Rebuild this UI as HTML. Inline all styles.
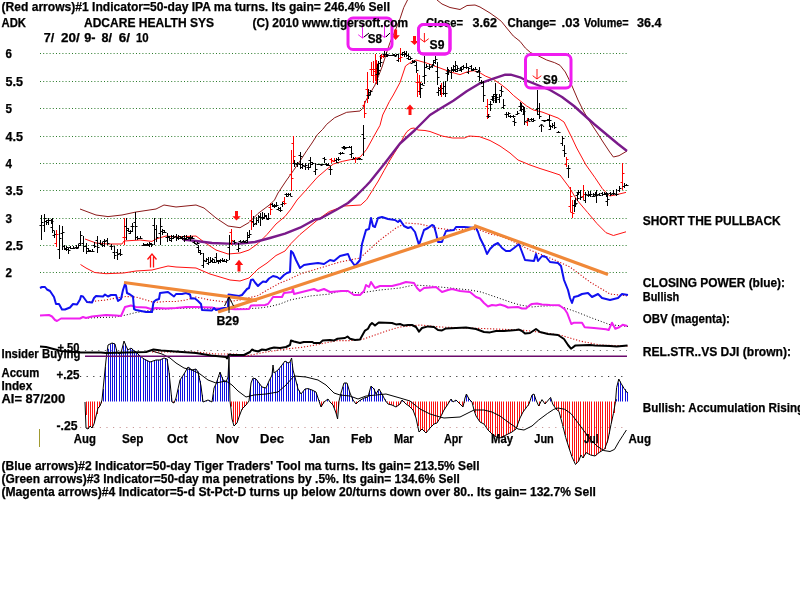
<!DOCTYPE html>
<html><head><meta charset="utf-8"><style>
html,body{margin:0;padding:0;background:#fff;width:800px;height:600px;overflow:hidden}
svg{display:block}
text{font-family:"Liberation Sans",Arial,sans-serif;stroke:#000;stroke-width:0.25px;paint-order:stroke}
</style></head><body>
<svg width="800" height="600" viewBox="0 0 800 600">
<line x1="40" y1="53.5" x2="627" y2="53.5" stroke="#2a7a2a" stroke-width="1" stroke-dasharray="1 2.2"/>
<line x1="40" y1="81.5" x2="627" y2="81.5" stroke="#2a7a2a" stroke-width="1" stroke-dasharray="1 2.2"/>
<line x1="40" y1="108.5" x2="627" y2="108.5" stroke="#2a7a2a" stroke-width="1" stroke-dasharray="1 2.2"/>
<line x1="40" y1="136.5" x2="627" y2="136.5" stroke="#2a7a2a" stroke-width="1" stroke-dasharray="1 2.2"/>
<line x1="40" y1="163.5" x2="627" y2="163.5" stroke="#2a7a2a" stroke-width="1" stroke-dasharray="1 2.2"/>
<line x1="40" y1="190.5" x2="627" y2="190.5" stroke="#2a7a2a" stroke-width="1" stroke-dasharray="1 2.2"/>
<line x1="40" y1="218.5" x2="627" y2="218.5" stroke="#2a7a2a" stroke-width="1" stroke-dasharray="1 2.2"/>
<line x1="40" y1="245.5" x2="627" y2="245.5" stroke="#2a7a2a" stroke-width="1" stroke-dasharray="1 2.2"/>
<line x1="40" y1="272.5" x2="627" y2="272.5" stroke="#2a7a2a" stroke-width="1" stroke-dasharray="1 2.2"/>
<line x1="85" y1="350.5" x2="627" y2="350.5" stroke="#666" stroke-width="1" stroke-dasharray="1.2 5.4"/>
<line x1="80" y1="376.5" x2="627" y2="376.5" stroke="#333" stroke-width="1" stroke-dasharray="1.2 5.4"/>
<line x1="80" y1="427.5" x2="627" y2="427.5" stroke="#c99" stroke-width="1" stroke-dasharray="1.2 5.4"/>
<line x1="86.5" y1="401.5" x2="86.5" y2="415" stroke="#ff1010" stroke-width="1" />
<line x1="88.5" y1="401.5" x2="88.5" y2="428.85" stroke="#ff1010" stroke-width="1" />
<line x1="90.5" y1="401.5" x2="90.5" y2="426.15" stroke="#ff1010" stroke-width="1" />
<line x1="92.5" y1="401.5" x2="92.5" y2="427.8" stroke="#ff1010" stroke-width="1" />
<line x1="94.5" y1="401.5" x2="94.5" y2="422.8" stroke="#ff1010" stroke-width="1" />
<line x1="97.5" y1="401.5" x2="97.5" y2="414" stroke="#ff1010" stroke-width="1" />
<line x1="99.5" y1="401.5" x2="99.5" y2="407.3" stroke="#ff1010" stroke-width="1" />
<line x1="101.5" y1="401.5" x2="101.5" y2="403.3" stroke="#ff1010" stroke-width="1" />
<line x1="103.5" y1="401.5" x2="103.5" y2="389" stroke="#1010e0" stroke-width="1" />
<line x1="105.5" y1="401.5" x2="105.5" y2="367" stroke="#1010e0" stroke-width="1" />
<line x1="108.5" y1="401.5" x2="108.5" y2="348.75" stroke="#1010e0" stroke-width="1" />
<line x1="110.5" y1="401.5" x2="110.5" y2="344.15" stroke="#1010e0" stroke-width="1" />
<line x1="112.5" y1="401.5" x2="112.5" y2="343.05" stroke="#1010e0" stroke-width="1" />
<line x1="114.5" y1="401.5" x2="114.5" y2="343.7" stroke="#1010e0" stroke-width="1" />
<line x1="116.5" y1="401.5" x2="116.5" y2="349.2" stroke="#1010e0" stroke-width="1" />
<line x1="119.5" y1="401.5" x2="119.5" y2="353.5" stroke="#1010e0" stroke-width="1" />
<line x1="121.5" y1="401.5" x2="121.5" y2="353.15" stroke="#1010e0" stroke-width="1" />
<line x1="123.5" y1="401.5" x2="123.5" y2="345.4" stroke="#1010e0" stroke-width="1" />
<line x1="125.5" y1="401.5" x2="125.5" y2="343.75" stroke="#1010e0" stroke-width="1" />
<line x1="127.5" y1="401.5" x2="127.5" y2="348.6" stroke="#1010e0" stroke-width="1" />
<line x1="130.5" y1="401.5" x2="130.5" y2="349" stroke="#1010e0" stroke-width="1" />
<line x1="132.5" y1="401.5" x2="132.5" y2="348.7" stroke="#1010e0" stroke-width="1" />
<line x1="134.5" y1="401.5" x2="134.5" y2="350.6" stroke="#1010e0" stroke-width="1" />
<line x1="136.5" y1="401.5" x2="136.5" y2="352.1" stroke="#1010e0" stroke-width="1" />
<line x1="138.5" y1="401.5" x2="138.5" y2="354.3" stroke="#1010e0" stroke-width="1" />
<line x1="140.5" y1="401.5" x2="140.5" y2="356.375" stroke="#1010e0" stroke-width="1" />
<line x1="143.5" y1="401.5" x2="143.5" y2="358.025" stroke="#1010e0" stroke-width="1" />
<line x1="145.5" y1="401.5" x2="145.5" y2="359.45" stroke="#1010e0" stroke-width="1" />
<line x1="147.5" y1="401.5" x2="147.5" y2="360.55" stroke="#1010e0" stroke-width="1" />
<line x1="149.5" y1="401.5" x2="149.5" y2="361.65" stroke="#1010e0" stroke-width="1" />
<line x1="151.5" y1="401.5" x2="151.5" y2="361.5" stroke="#1010e0" stroke-width="1" />
<line x1="154.5" y1="401.5" x2="154.5" y2="360.767" stroke="#1010e0" stroke-width="1" />
<line x1="156.5" y1="401.5" x2="156.5" y2="360.033" stroke="#1010e0" stroke-width="1" />
<line x1="158.5" y1="401.5" x2="158.5" y2="360" stroke="#1010e0" stroke-width="1" />
<line x1="160.5" y1="401.5" x2="160.5" y2="359.85" stroke="#1010e0" stroke-width="1" />
<line x1="162.5" y1="401.5" x2="162.5" y2="358.75" stroke="#1010e0" stroke-width="1" />
<line x1="165.5" y1="401.5" x2="165.5" y2="358.233" stroke="#1010e0" stroke-width="1" />
<line x1="167.5" y1="401.5" x2="167.5" y2="358.967" stroke="#1010e0" stroke-width="1" />
<line x1="169.5" y1="401.5" x2="169.5" y2="373" stroke="#1010e0" stroke-width="1" />
<line x1="171.5" y1="401.5" x2="171.5" y2="395" stroke="#1010e0" stroke-width="1" />
<line x1="173.5" y1="401.5" x2="173.5" y2="402.75" stroke="#ff1010" stroke-width="1" />
<line x1="176.5" y1="401.5" x2="176.5" y2="398.75" stroke="#1010e0" stroke-width="1" />
<line x1="178.5" y1="401.5" x2="178.5" y2="389.45" stroke="#1010e0" stroke-width="1" />
<line x1="180.5" y1="401.5" x2="180.5" y2="379.85" stroke="#1010e0" stroke-width="1" />
<line x1="182.5" y1="401.5" x2="182.5" y2="376.55" stroke="#1010e0" stroke-width="1" />
<line x1="184.5" y1="401.5" x2="184.5" y2="373.125" stroke="#1010e0" stroke-width="1" />
<line x1="187.5" y1="401.5" x2="187.5" y2="369.275" stroke="#1010e0" stroke-width="1" />
<line x1="189.5" y1="401.5" x2="189.5" y2="367.675" stroke="#1010e0" stroke-width="1" />
<line x1="191.5" y1="401.5" x2="191.5" y2="369.325" stroke="#1010e0" stroke-width="1" />
<line x1="193.5" y1="401.5" x2="193.5" y2="369.675" stroke="#1010e0" stroke-width="1" />
<line x1="195.5" y1="401.5" x2="195.5" y2="369.125" stroke="#1010e0" stroke-width="1" />
<line x1="198.5" y1="401.5" x2="198.5" y2="371.55" stroke="#1010e0" stroke-width="1" />
<line x1="200.5" y1="401.5" x2="200.5" y2="380.867" stroke="#1010e0" stroke-width="1" />
<line x1="202.5" y1="401.5" x2="202.5" y2="394.8" stroke="#1010e0" stroke-width="1" />
<line x1="206.5" y1="401.5" x2="206.5" y2="400.6" stroke="#1010e0" stroke-width="1" />
<line x1="209.5" y1="401.5" x2="209.5" y2="400.35" stroke="#1010e0" stroke-width="1" />
<line x1="213.5" y1="401.5" x2="213.5" y2="394.3" stroke="#1010e0" stroke-width="1" />
<line x1="215.5" y1="401.5" x2="215.5" y2="385.4" stroke="#1010e0" stroke-width="1" />
<line x1="217.5" y1="401.5" x2="217.5" y2="379.5" stroke="#1010e0" stroke-width="1" />
<line x1="220.5" y1="401.5" x2="220.5" y2="372.9" stroke="#1010e0" stroke-width="1" />
<line x1="222.5" y1="401.5" x2="222.5" y2="377.067" stroke="#1010e0" stroke-width="1" />
<line x1="224.5" y1="401.5" x2="224.5" y2="380.733" stroke="#1010e0" stroke-width="1" />
<line x1="226.5" y1="401.5" x2="226.5" y2="381.25" stroke="#1010e0" stroke-width="1" />
<line x1="228.5" y1="401.5" x2="228.5" y2="367" stroke="#1010e0" stroke-width="1" />
<line x1="231.5" y1="401.5" x2="231.5" y2="406.6" stroke="#ff1010" stroke-width="1" />
<line x1="233.5" y1="401.5" x2="233.5" y2="422.15" stroke="#ff1010" stroke-width="1" />
<line x1="235.5" y1="401.5" x2="235.5" y2="424.9" stroke="#ff1010" stroke-width="1" />
<line x1="237.5" y1="401.5" x2="237.5" y2="422.1" stroke="#ff1010" stroke-width="1" />
<line x1="239.5" y1="401.5" x2="239.5" y2="415.667" stroke="#ff1010" stroke-width="1" />
<line x1="242.5" y1="401.5" x2="242.5" y2="409.8" stroke="#ff1010" stroke-width="1" />
<line x1="244.5" y1="401.5" x2="244.5" y2="407.1" stroke="#ff1010" stroke-width="1" />
<line x1="246.5" y1="401.5" x2="246.5" y2="404.867" stroke="#ff1010" stroke-width="1" />
<line x1="250.5" y1="401.5" x2="250.5" y2="387.5" stroke="#1010e0" stroke-width="1" />
<line x1="253.5" y1="401.5" x2="253.5" y2="378.75" stroke="#1010e0" stroke-width="1" />
<line x1="255.5" y1="401.5" x2="255.5" y2="378.633" stroke="#1010e0" stroke-width="1" />
<line x1="257.5" y1="401.5" x2="257.5" y2="380.467" stroke="#1010e0" stroke-width="1" />
<line x1="259.5" y1="401.5" x2="259.5" y2="383.4" stroke="#1010e0" stroke-width="1" />
<line x1="261.5" y1="401.5" x2="261.5" y2="386.333" stroke="#1010e0" stroke-width="1" />
<line x1="264.5" y1="401.5" x2="264.5" y2="387.425" stroke="#1010e0" stroke-width="1" />
<line x1="266.5" y1="401.5" x2="266.5" y2="387.975" stroke="#1010e0" stroke-width="1" />
<line x1="268.5" y1="401.5" x2="268.5" y2="383.1" stroke="#1010e0" stroke-width="1" />
<line x1="270.5" y1="401.5" x2="270.5" y2="378.4" stroke="#1010e0" stroke-width="1" />
<line x1="272.5" y1="401.5" x2="272.5" y2="370" stroke="#1010e0" stroke-width="1" />
<line x1="275.5" y1="401.5" x2="275.5" y2="372.475" stroke="#1010e0" stroke-width="1" />
<line x1="277.5" y1="401.5" x2="277.5" y2="370.825" stroke="#1010e0" stroke-width="1" />
<line x1="279.5" y1="401.5" x2="279.5" y2="368.625" stroke="#1010e0" stroke-width="1" />
<line x1="281.5" y1="401.5" x2="281.5" y2="365.875" stroke="#1010e0" stroke-width="1" />
<line x1="283.5" y1="401.5" x2="283.5" y2="363" stroke="#1010e0" stroke-width="1" />
<line x1="286.5" y1="401.5" x2="286.5" y2="361.467" stroke="#1010e0" stroke-width="1" />
<line x1="288.5" y1="401.5" x2="288.5" y2="362.933" stroke="#1010e0" stroke-width="1" />
<line x1="290.5" y1="401.5" x2="290.5" y2="361.75" stroke="#1010e0" stroke-width="1" />
<line x1="292.5" y1="401.5" x2="292.5" y2="364" stroke="#1010e0" stroke-width="1" />
<line x1="294.5" y1="401.5" x2="294.5" y2="375.25" stroke="#1010e0" stroke-width="1" />
<line x1="297.5" y1="401.5" x2="297.5" y2="383.8" stroke="#1010e0" stroke-width="1" />
<line x1="299.5" y1="401.5" x2="299.5" y2="390.5" stroke="#1010e0" stroke-width="1" />
<line x1="301.5" y1="401.5" x2="301.5" y2="393.875" stroke="#1010e0" stroke-width="1" />
<line x1="303.5" y1="401.5" x2="303.5" y2="391.125" stroke="#1010e0" stroke-width="1" />
<line x1="305.5" y1="401.5" x2="305.5" y2="388.933" stroke="#1010e0" stroke-width="1" />
<line x1="308.5" y1="401.5" x2="308.5" y2="388.64" stroke="#1010e0" stroke-width="1" />
<line x1="310.5" y1="401.5" x2="310.5" y2="389.265" stroke="#1010e0" stroke-width="1" />
<line x1="312.5" y1="401.5" x2="312.5" y2="390.05" stroke="#1010e0" stroke-width="1" />
<line x1="314.5" y1="401.5" x2="314.5" y2="391.15" stroke="#1010e0" stroke-width="1" />
<line x1="316.5" y1="401.5" x2="316.5" y2="393.5" stroke="#1010e0" stroke-width="1" />
<line x1="319.5" y1="401.5" x2="319.5" y2="400.1" stroke="#1010e0" stroke-width="1" />
<line x1="321.5" y1="401.5" x2="321.5" y2="406.7" stroke="#ff1010" stroke-width="1" />
<line x1="323.5" y1="401.5" x2="323.5" y2="403.5" stroke="#ff1010" stroke-width="1" />
<line x1="327.5" y1="401.5" x2="327.5" y2="399.375" stroke="#1010e0" stroke-width="1" />
<line x1="332.5" y1="401.5" x2="332.5" y2="403.9" stroke="#ff1010" stroke-width="1" />
<line x1="334.5" y1="401.5" x2="334.5" y2="407.933" stroke="#ff1010" stroke-width="1" />
<line x1="336.5" y1="401.5" x2="336.5" y2="414.125" stroke="#ff1010" stroke-width="1" />
<line x1="338.5" y1="401.5" x2="338.5" y2="407.429" stroke="#ff1010" stroke-width="1" />
<line x1="341.5" y1="401.5" x2="341.5" y2="394.2" stroke="#1010e0" stroke-width="1" />
<line x1="343.5" y1="401.5" x2="343.5" y2="386.667" stroke="#1010e0" stroke-width="1" />
<line x1="345.5" y1="401.5" x2="345.5" y2="383" stroke="#1010e0" stroke-width="1" />
<line x1="347.5" y1="401.5" x2="347.5" y2="384" stroke="#1010e0" stroke-width="1" />
<line x1="349.5" y1="401.5" x2="349.5" y2="391.333" stroke="#1010e0" stroke-width="1" />
<line x1="352.5" y1="401.5" x2="352.5" y2="396.967" stroke="#1010e0" stroke-width="1" />
<line x1="356.5" y1="401.5" x2="356.5" y2="403.9" stroke="#ff1010" stroke-width="1" />
<line x1="360.5" y1="401.5" x2="360.5" y2="400.1" stroke="#1010e0" stroke-width="1" />
<line x1="363.5" y1="401.5" x2="363.5" y2="398.78" stroke="#1010e0" stroke-width="1" />
<line x1="365.5" y1="401.5" x2="365.5" y2="397.775" stroke="#1010e0" stroke-width="1" />
<line x1="367.5" y1="401.5" x2="367.5" y2="397.225" stroke="#1010e0" stroke-width="1" />
<line x1="369.5" y1="401.5" x2="369.5" y2="392.233" stroke="#1010e0" stroke-width="1" />
<line x1="371.5" y1="401.5" x2="371.5" y2="386.5" stroke="#1010e0" stroke-width="1" />
<line x1="374.5" y1="401.5" x2="374.5" y2="388.7" stroke="#1010e0" stroke-width="1" />
<line x1="376.5" y1="401.5" x2="376.5" y2="393.75" stroke="#1010e0" stroke-width="1" />
<line x1="378.5" y1="401.5" x2="378.5" y2="390.5" stroke="#1010e0" stroke-width="1" />
<line x1="380.5" y1="401.5" x2="380.5" y2="391.167" stroke="#1010e0" stroke-width="1" />
<line x1="382.5" y1="401.5" x2="382.5" y2="395" stroke="#1010e0" stroke-width="1" />
<line x1="385.5" y1="401.5" x2="385.5" y2="399.4" stroke="#1010e0" stroke-width="1" />
<line x1="387.5" y1="401.5" x2="387.5" y2="402.533" stroke="#ff1010" stroke-width="1" />
<line x1="389.5" y1="401.5" x2="389.5" y2="404.275" stroke="#ff1010" stroke-width="1" />
<line x1="391.5" y1="401.5" x2="391.5" y2="404.825" stroke="#ff1010" stroke-width="1" />
<line x1="393.5" y1="401.5" x2="393.5" y2="405.75" stroke="#ff1010" stroke-width="1" />
<line x1="396.5" y1="401.5" x2="396.5" y2="406.85" stroke="#ff1010" stroke-width="1" />
<line x1="398.5" y1="401.5" x2="398.5" y2="405.575" stroke="#ff1010" stroke-width="1" />
<line x1="400.5" y1="401.5" x2="400.5" y2="403.8" stroke="#ff1010" stroke-width="1" />
<line x1="402.5" y1="401.5" x2="402.5" y2="400.3" stroke="#1010e0" stroke-width="1" />
<line x1="404.5" y1="401.5" x2="404.5" y2="402.5" stroke="#ff1010" stroke-width="1" />
<line x1="407.5" y1="401.5" x2="407.5" y2="404.467" stroke="#ff1010" stroke-width="1" />
<line x1="409.5" y1="401.5" x2="409.5" y2="405.933" stroke="#ff1010" stroke-width="1" />
<line x1="411.5" y1="401.5" x2="411.5" y2="408.1" stroke="#ff1010" stroke-width="1" />
<line x1="413.5" y1="401.5" x2="413.5" y2="410.8" stroke="#ff1010" stroke-width="1" />
<line x1="415.5" y1="401.5" x2="415.5" y2="416.667" stroke="#ff1010" stroke-width="1" />
<line x1="418.5" y1="401.5" x2="418.5" y2="425.933" stroke="#ff1010" stroke-width="1" />
<line x1="420.5" y1="401.5" x2="420.5" y2="431.1" stroke="#ff1010" stroke-width="1" />
<line x1="422.5" y1="401.5" x2="422.5" y2="429.1" stroke="#ff1010" stroke-width="1" />
<line x1="424.5" y1="401.5" x2="424.5" y2="431.3" stroke="#ff1010" stroke-width="1" />
<line x1="426.5" y1="401.5" x2="426.5" y2="432.375" stroke="#ff1010" stroke-width="1" />
<line x1="429.5" y1="401.5" x2="429.5" y2="429.625" stroke="#ff1010" stroke-width="1" />
<line x1="431.5" y1="401.5" x2="431.5" y2="427.1" stroke="#ff1010" stroke-width="1" />
<line x1="433.5" y1="401.5" x2="433.5" y2="424.9" stroke="#ff1010" stroke-width="1" />
<line x1="435.5" y1="401.5" x2="435.5" y2="423.567" stroke="#ff1010" stroke-width="1" />
<line x1="437.5" y1="401.5" x2="437.5" y2="422.167" stroke="#ff1010" stroke-width="1" />
<line x1="440.5" y1="401.5" x2="440.5" y2="418.5" stroke="#ff1010" stroke-width="1" />
<line x1="442.5" y1="401.5" x2="442.5" y2="414.2" stroke="#ff1010" stroke-width="1" />
<line x1="444.5" y1="401.5" x2="444.5" y2="409.85" stroke="#ff1010" stroke-width="1" />
<line x1="446.5" y1="401.5" x2="446.5" y2="406.55" stroke="#ff1010" stroke-width="1" />
<line x1="448.5" y1="401.5" x2="448.5" y2="403.167" stroke="#ff1010" stroke-width="1" />
<line x1="451.5" y1="401.5" x2="451.5" y2="399.5" stroke="#1010e0" stroke-width="1" />
<line x1="455.5" y1="401.5" x2="455.5" y2="400.6" stroke="#1010e0" stroke-width="1" />
<line x1="459.5" y1="401.5" x2="459.5" y2="403.5" stroke="#ff1010" stroke-width="1" />
<line x1="462.5" y1="401.5" x2="462.5" y2="405.7" stroke="#ff1010" stroke-width="1" />
<line x1="464.5" y1="401.5" x2="464.5" y2="402.95" stroke="#ff1010" stroke-width="1" />
<line x1="466.5" y1="401.5" x2="466.5" y2="394.857" stroke="#1010e0" stroke-width="1" />
<line x1="468.5" y1="401.5" x2="468.5" y2="397.654" stroke="#1010e0" stroke-width="1" />
<line x1="470.5" y1="401.5" x2="470.5" y2="400.5" stroke="#1010e0" stroke-width="1" />
<line x1="473.5" y1="401.5" x2="473.5" y2="404.8" stroke="#ff1010" stroke-width="1" />
<line x1="475.5" y1="401.5" x2="475.5" y2="412.7" stroke="#ff1010" stroke-width="1" />
<line x1="477.5" y1="401.5" x2="477.5" y2="417.65" stroke="#ff1010" stroke-width="1" />
<line x1="479.5" y1="401.5" x2="479.5" y2="420.95" stroke="#ff1010" stroke-width="1" />
<line x1="481.5" y1="401.5" x2="481.5" y2="422.75" stroke="#ff1010" stroke-width="1" />
<line x1="484.5" y1="401.5" x2="484.5" y2="423.85" stroke="#ff1010" stroke-width="1" />
<line x1="486.5" y1="401.5" x2="486.5" y2="426.85" stroke="#ff1010" stroke-width="1" />
<line x1="488.5" y1="401.5" x2="488.5" y2="430.1" stroke="#ff1010" stroke-width="1" />
<line x1="490.5" y1="401.5" x2="490.5" y2="432.3" stroke="#ff1010" stroke-width="1" />
<line x1="492.5" y1="401.5" x2="492.5" y2="434.375" stroke="#ff1010" stroke-width="1" />
<line x1="495.5" y1="401.5" x2="495.5" y2="436.025" stroke="#ff1010" stroke-width="1" />
<line x1="497.5" y1="401.5" x2="497.5" y2="437.225" stroke="#ff1010" stroke-width="1" />
<line x1="499.5" y1="401.5" x2="499.5" y2="437.775" stroke="#ff1010" stroke-width="1" />
<line x1="501.5" y1="401.5" x2="501.5" y2="437.35" stroke="#ff1010" stroke-width="1" />
<line x1="503.5" y1="401.5" x2="503.5" y2="436.25" stroke="#ff1010" stroke-width="1" />
<line x1="506.5" y1="401.5" x2="506.5" y2="435.15" stroke="#ff1010" stroke-width="1" />
<line x1="508.5" y1="401.5" x2="508.5" y2="434.05" stroke="#ff1010" stroke-width="1" />
<line x1="510.5" y1="401.5" x2="510.5" y2="432.95" stroke="#ff1010" stroke-width="1" />
<line x1="512.5" y1="401.5" x2="512.5" y2="431.775" stroke="#ff1010" stroke-width="1" />
<line x1="514.5" y1="401.5" x2="514.5" y2="430.125" stroke="#ff1010" stroke-width="1" />
<line x1="517.5" y1="401.5" x2="517.5" y2="427.075" stroke="#ff1010" stroke-width="1" />
<line x1="519.5" y1="401.5" x2="519.5" y2="421.025" stroke="#ff1010" stroke-width="1" />
<line x1="521.5" y1="401.5" x2="521.5" y2="415.8" stroke="#ff1010" stroke-width="1" />
<line x1="523.5" y1="401.5" x2="523.5" y2="411.6" stroke="#ff1010" stroke-width="1" />
<line x1="525.5" y1="401.5" x2="525.5" y2="408.667" stroke="#ff1010" stroke-width="1" />
<line x1="528.5" y1="401.5" x2="528.5" y2="405.733" stroke="#ff1010" stroke-width="1" />
<line x1="532.5" y1="401.5" x2="532.5" y2="394.95" stroke="#1010e0" stroke-width="1" />
<line x1="534.5" y1="401.5" x2="534.5" y2="394.9" stroke="#1010e0" stroke-width="1" />
<line x1="539.5" y1="401.5" x2="539.5" y2="406" stroke="#ff1010" stroke-width="1" />
<line x1="545.5" y1="401.5" x2="545.5" y2="403.646" stroke="#ff1010" stroke-width="1" />
<line x1="550.5" y1="401.5" x2="550.5" y2="398.461" stroke="#1010e0" stroke-width="1" />
<line x1="554.5" y1="401.5" x2="554.5" y2="406.121" stroke="#ff1010" stroke-width="1" />
<line x1="556.5" y1="401.5" x2="556.5" y2="409.25" stroke="#ff1010" stroke-width="1" />
<line x1="558.5" y1="401.5" x2="558.5" y2="411.083" stroke="#ff1010" stroke-width="1" />
<line x1="561.5" y1="401.5" x2="561.5" y2="417.814" stroke="#ff1010" stroke-width="1" />
<line x1="563.5" y1="401.5" x2="563.5" y2="426.125" stroke="#ff1010" stroke-width="1" />
<line x1="565.5" y1="401.5" x2="565.5" y2="435.062" stroke="#ff1010" stroke-width="1" />
<line x1="567.5" y1="401.5" x2="567.5" y2="442.591" stroke="#ff1010" stroke-width="1" />
<line x1="569.5" y1="401.5" x2="569.5" y2="449.5" stroke="#ff1010" stroke-width="1" />
<line x1="572.5" y1="401.5" x2="572.5" y2="456.1" stroke="#ff1010" stroke-width="1" />
<line x1="574.5" y1="401.5" x2="574.5" y2="461.071" stroke="#ff1010" stroke-width="1" />
<line x1="576.5" y1="401.5" x2="576.5" y2="463.844" stroke="#ff1010" stroke-width="1" />
<line x1="578.5" y1="401.5" x2="578.5" y2="461.438" stroke="#ff1010" stroke-width="1" />
<line x1="580.5" y1="401.5" x2="580.5" y2="456.304" stroke="#ff1010" stroke-width="1" />
<line x1="583.5" y1="401.5" x2="583.5" y2="457.55" stroke="#ff1010" stroke-width="1" />
<line x1="585.5" y1="401.5" x2="585.5" y2="454.58" stroke="#ff1010" stroke-width="1" />
<line x1="587.5" y1="401.5" x2="587.5" y2="453.174" stroke="#ff1010" stroke-width="1" />
<line x1="589.5" y1="401.5" x2="589.5" y2="454.322" stroke="#ff1010" stroke-width="1" />
<line x1="591.5" y1="401.5" x2="591.5" y2="455.205" stroke="#ff1010" stroke-width="1" />
<line x1="594.5" y1="401.5" x2="594.5" y2="455.705" stroke="#ff1010" stroke-width="1" />
<line x1="596.5" y1="401.5" x2="596.5" y2="455.235" stroke="#ff1010" stroke-width="1" />
<line x1="598.5" y1="401.5" x2="598.5" y2="453.365" stroke="#ff1010" stroke-width="1" />
<line x1="600.5" y1="401.5" x2="600.5" y2="451.779" stroke="#ff1010" stroke-width="1" />
<line x1="602.5" y1="401.5" x2="602.5" y2="450.389" stroke="#ff1010" stroke-width="1" />
<line x1="605.5" y1="401.5" x2="605.5" y2="449" stroke="#ff1010" stroke-width="1" />
<line x1="607.5" y1="401.5" x2="607.5" y2="442.733" stroke="#ff1010" stroke-width="1" />
<line x1="609.5" y1="401.5" x2="609.5" y2="434.063" stroke="#ff1010" stroke-width="1" />
<line x1="611.5" y1="401.5" x2="611.5" y2="423.137" stroke="#ff1010" stroke-width="1" />
<line x1="614.5" y1="401.5" x2="614.5" y2="413.033" stroke="#ff1010" stroke-width="1" />
<line x1="616.5" y1="401.5" x2="616.5" y2="399.136" stroke="#1010e0" stroke-width="1" />
<line x1="618.5" y1="401.5" x2="618.5" y2="382.518" stroke="#1010e0" stroke-width="1" />
<line x1="620.5" y1="401.5" x2="620.5" y2="381.541" stroke="#1010e0" stroke-width="1" />
<line x1="622.5" y1="401.5" x2="622.5" y2="385.494" stroke="#1010e0" stroke-width="1" />
<line x1="625.5" y1="401.5" x2="625.5" y2="389.091" stroke="#1010e0" stroke-width="1" />
<line x1="627.5" y1="401.5" x2="627.5" y2="391.958" stroke="#1010e0" stroke-width="1" />
<polyline points="85,402 86,428 88,429 90,426 92,428 94,424 96,416 98,408 100,406 102,400 104,380 106,360 108,345 112,343 115,344 117,352 119,354 121,353 124,341 126,346 128,350 131,348 133,350 136,352 140,356 144,359 150,362 156,360 160,360 164,358 167,359 169,372 171,392 172,402 174,403 176,398 180,380 184,374 188,367 192,370 196,369 198,372 201,386 203,402 208,400 212,402 214,388 216,384 220,372 223,380 226,382 228,377 229,357 230,401 231,409 232,419 234,426 237,423 239,417 242,409 246,405 249,401 251,383 253,378 256,379 259,383 262,387 266,388 269,381 272,375 273,365 274,373 278,370 282,365 285,361 288,363 290,362 291.6,358 293,370 295,377 298,389 301,394 305,389 308,388.6 312,390 316,392 319,401 321,407 324,402 328,399 330,402 333,405 336,413 337.6,419 339,401 341,393 344,383 347,383 350,393 353,400 356,404 359,401 364,398 368,397 371,386 374,389 376,394 379,389 382,394 385,400 388,404 392,405 396,407 400,404 402,400 406,404 409,406 413,410 416,418 419,432 422,429 426,433 430,428 434,424 437,423 440,418 444,410 448,404 451,399 453,402 456,400 459,403 463,407 465,398 466.4,394 469,399 472,402 474,410 476,416 480,422 484,424 488,430 492,434 496,437 500,438 504,436 508,434 512,432 516,429 520,418 523,412 526,408 529,404 532,395 534,394 536,400 538.7,406 542,399.6 545,404 550.6,397.4 552.7,404 556,409 559,411.5 562.5,424.5 565.7,437.5 569,448 572,457 575.5,464.5 578.7,461 581,455 583,458 586,452.6 590.6,455 595,456 599,452.6 604.7,449 608,439.6 611,424.5 613.4,413.6 615.5,401.7 616.6,387.6 618.8,379 621,383.3 624.2,388.7 627.5,393" fill="none" stroke="#000" stroke-width="1" stroke-linejoin="round" />
<polyline points="152,351 162,354 170,358 176,363 184,368 192,370 200,374 208,380 216,383 226,381 232,385 238,391 246,397 254,395 266,394 278,392 286,385 294,376 306,377 318,380 326,385 334,393 340,395 350,396 358,399 366,396 376,395 386,394 400,398 410,401 420,409 430,414 440,417 444,418 460,417 468,413 474,410 484,410 492,412 500,416 508,422 518,429 524,430 532,426 538.7,420 547.3,413.6 553.8,409.3 558,408 564.7,409.3 571,413.6 577.6,422.3 584,431 590.6,439.6 597,446 603.6,450.5 610,451.5 614.5,449.4 618.8,441.8 623,435.3 626.4,430" fill="none" stroke="#000" stroke-width="1" stroke-linejoin="round" />
<line x1="85" y1="356.2" x2="627" y2="356.2" stroke="#6a0a6a" stroke-width="1.4" />
<polyline points="152,352 196,352 216,354 236,354 246,356 266,352 286,349 300,347.5 312.5,345.6 325,343 337.5,340.6 350,340.6 362.5,339.4 375,335 387.5,330.6 400,327 420,325 440,327 480,328.4 520,330 530,331 560,335 580,341 600,345 628,346" fill="none" stroke="#d01010" stroke-width="1.1" stroke-linejoin="round" stroke-dasharray="1.2 1.8"/>
<polyline points="40,346.5 46,347 61,351 81,352.5 101,352.5 106,353 146,352 153.5,349.5 161,350.5 196,353 211,355.5 226,357 227,358.5 229,354.5 232,355 244,355 248,353 250,352 252,349.5 254,350.5 258,351.5 262,349.5 266,350 270,348.5 274,347.5 280,348 286,347 290,345 291,340.5 294,341.5 300,343 303.75,342 312.5,342 313.75,343 320,343 322.5,340.6 330,340 333.75,340.6 337.5,338.75 345,338 347.5,336.5 350,338.75 355,340 360,339.4 362.5,335 365,330.6 368,328.75 370,325 372,323 375,325.6 378.75,322.5 392,323 396,324.4 400,324 404,325.6 408,325 412,325 416,327 419,331.6 422,328 428,326.4 434,327 438,330 442,330.4 446,328.4 456,328 466,327.6 476,329 484,332 490,332.4 496,331 504,331 516,330 519,329.6 522,331 525,333.6 530,333 536,329 540,332 548,334 558,335 564,339 568,345 571,348.7 575.5,345.4 590,345 595,345.4 610,346 616.6,346.5 627.5,345.4" fill="none" stroke="#000" stroke-width="2" stroke-linejoin="round" />
<polyline points="88,318 116,317 126,315 136,312.5 146,311 156,309.5 176,308.5 196,308 236,309 250,308.5 260,308 270,306.5 280,304 290,300 300,298 310,296 330,294 340,291 360,293 380,290 400,288 414,285 430,286 450,288 470,290 481,292 490,295 500,298.5 510,302 520,305 532,307 540,306.2 558,305.5 576.7,312 590,317.3 610,324.7 628,326.4" fill="none" stroke="#000" stroke-width="1" stroke-linejoin="round" stroke-dasharray="1 2"/>
<polyline points="40,315.5 49,315 52,316.5 55,320 57,321 61,318.5 80,318.5 83,317 86,318 92,316.5 106,315 116,315.5 121,316 125,307 131,305.5 136,307 146,307.5 151,309 156,308 166,308.5 176,308 186,307 196,307 212,307.5 215,308.5 225,308.5 235,309.3 249,309 251,305.5 265,305 268,304 271,300 273,297 282,297 284,293 292,292 293,289 294,294 302,292 310,290 314,289 318,291 324,289 330,292 342,291 348,291 354,295 360,295 364,291 366,285 369,287 371,282 375,288 380,286 392,286 400,284 406,282 414,283 417,288 420,291 424,288 436,287 442,292 448,290 452,289 460,291 470,292 476,297 480,298.5 484,303 488,306.5 492,305 496,305.5 500,304.5 505,306 508,307.5 518,307 522,308.5 526,308.5 530,305 532,304 537,303.5 542,304.5 550,305 559.3,305.3 564.7,309.3 567.3,313.3 571.3,324 574,322.7 582,322.7 584.7,327.3 594,328 606,329.3 608.7,330 612,322.7 615.3,328.7 619.3,327.3 622.7,324.7 627.3,326" fill="none" stroke="#f020f0" stroke-width="2" stroke-linejoin="round" />
<polyline points="86,302 106,300 116,298 126,296.5 136,297 146,300 154,302.5 166,301.5 176,301.5 186,300 191,298.5 196,297 210,300 226,302 240,300 258,295.5 269,289 280,283 290,279 300,274 320,268 340,262 360,258 380,240 396,228 406,223 420,224 436,228 452,230 468,229 480,230 490,234 500,236 510,240 530,250 550,258 570,267 590,282 610,294 628,296" fill="none" stroke="#d01010" stroke-width="1.1" stroke-linejoin="round" stroke-dasharray="1.2 1.8"/>
<polyline points="40,288 42,287 45,287 47,289.5 50,291 52,294 54,297 56,304 59,304 62,309.5 65,309.5 70,307.5 73,304 77,304.5 80,299.5 81,296 83,296.5 87,302 92,302.5 94,298 96,296 103,296.5 105,294.5 108,296.5 111,295 116,295 118,301 121,299 123,290 125,284 126,286 127,293 130,294.5 133,296.5 134,309 136,310 141,311 146,312 152,312 153.5,302 156,300 159,299 160,293 168,292 174,296.5 176,294 182,294 186,293 190,294.5 191,298.5 195,298.5 198,301 201,304 202,310 212,310.5 214,308 216,310 224,308 228,308 228.5,294.5 239,296 242,295 247,289 249,288 251,280 253,279.5 255,282.5 258,286 260,284 263,281.5 266,282 269,278.5 273,276 277,277 280,279 284,275 287,273 290,272 291,251 293,253 296,260 300,268 304,265 310,264 318,263 324,264 330,260 334,261 340,256 348,254 350,259 355,266 360,260 362,244 366,230 369,229 371,218 373,226 375,227 378,218 382,217 388,219 395,220 398,222 400,220 404,226 408,228 411,227 415,232 419,245 422,236 424,230 428,228 432,225 434,226 436,233 438,242 442,242 444,236 446,231 454,230 456,227 464,227 476,228 478,232 480,238 484,246 487,254 490,249 494,245 498,243 502,248 506,251 510,251 514,248 519,244 522,252 525,260 534,261 536,254 538,261 542,256 546,257 550,262 558,263 561,266 564,280 568,290 570,298 572,303 574,297 578,296 582,294 588,293 592,297 598,294 602,298 610,300 618,298 622,294 628,295" fill="none" stroke="#1010f0" stroke-width="2" stroke-linejoin="round" />
<polyline points="124,282.5 257,300.5" fill="none" stroke="#f08838" stroke-width="3.2" stroke-linejoin="round" stroke-linecap="butt"/>
<polyline points="218,312 476,227" fill="none" stroke="#f08838" stroke-width="3.2" stroke-linejoin="round" stroke-linecap="butt"/>
<polyline points="474,225.5 608,274.4" fill="none" stroke="#f08838" stroke-width="3.2" stroke-linejoin="round" stroke-linecap="butt"/>
<polyline points="80,209 96,215 108,216.6 122,215 136,212 156,209 164,205 176,207 196,205 204,208 216,218 228,226 240,227.7 249,222.5 258,213.5 270,204.5 274.5,200 278,193 286,181 293.3,170.7 300,161 306.7,150.7 312,143 317.3,134.7 322.7,129.3 326.7,124.3 334.7,117.7 346.7,112.3 360,111 362.7,108.3 366,100.3 375,85 382,67 387.5,50 390,42.5 393.75,33.75 397.5,25 400,18.75 403.75,7.5 407.5,0" fill="none" stroke="#8b1a1a" stroke-width="1" stroke-linejoin="round" />
<polyline points="437,0 442,4 450,7.5 460,9.5 467,5.5 475,5 480,7 490,13 497,18 501.3,21.3 506.7,28 513.3,36 520,41.3 525.3,48 530.7,52.7 538.7,56 546.7,60 554.7,62.7 560,65.3 565.3,72 569.3,80 572,86 578,100 584,112 590,122 598,134 602.4,141 609.7,152 613.4,157 619,155.7 627,151" fill="none" stroke="#8b1a1a" stroke-width="1" stroke-linejoin="round" />
<polyline points="80.5,264.5 86,268 94.7,272.5 106,273.7 123.5,273 136,271 152,270 168,266 176,267 196,268 210,274 230,280 240,281 249,278 258,269 267,263 276,255.5 285,251 291,243.5 300,234.5 309,227 318,219.5 329.3,211.5 344.5,206 360.8,205 366.6,199.7 372.5,190.3 378.3,181 384.1,170.5 390,160 400,144 404,136 407,131.5 411,128.5 414,128 418,130 425,130.5 430,131.5 442,136 452.5,138 464.5,138 469,136 479.5,136.7 490,140.5 500,146 510,153 518,160 530,165 540,168.5 551,172 560,175 569,187 576.7,199.7 587.7,212.6 597,223.6 606,232.7 613.4,235.5 626,231.8" fill="none" stroke="#ff1010" stroke-width="1" stroke-linejoin="round" />
<polyline points="85,239 96,243 108,244 122,244 124,241 140,240 152,241.4 156,239 166,236 176,237 196,236 204,242 216,250 228,254 240,253 249,250 258,243.5 267,234.5 276,224 285,216.5 291,209 297,200 306.7,189.3 317.3,177.3 326.7,169.3 333.3,164 342.7,161.3 352,159.3 360,157.3 366.7,149.3 373.3,137.3 380,125.3 382.7,115 389.3,101.7 393.3,95 400,82.5 405.5,66 411.5,61.7 416,60 426.5,63 437,67 440,68 450.7,72 460,74.7 466.7,72 473.3,70.7 478.7,72 485.3,76 493.3,79.3 501.3,84.7 508,90 513.3,95.3 520,100.7 526.7,106 533.3,110 542,112 550,115 558,118 564,122 568,130 572,138 576.7,148 586,165 595,177.7 602.4,188.7 609.7,196 615,195 626,192.4" fill="none" stroke="#ff1010" stroke-width="1" stroke-linejoin="round" />
<polyline points="183,239.5 196,241 212,243 228,243.6 240,243.5 255,242 270,238 285,233.7 300,227.7 315,219.5 320,218.7 336,210 348,203 356,196 366,186 370,181.7 380,169.3 385,163 400,143.5 415,130 430,115 440,108.7 453.3,100.7 466.7,91.3 480,83.3 493.3,78.7 505.3,74.7 510.7,74.7 520,77.3 526.7,80.7 540,86 550,90 562,97 574,106 584,115 594,124 606,134 618,144 627,151" fill="none" stroke="#7a1a8a" stroke-width="2.4" stroke-linejoin="round" />
<line x1="41.5" y1="215" x2="41.5" y2="240" stroke="#000" stroke-width="1" />
<line x1="39.5" y1="225.5" x2="41.5" y2="225.5" stroke="#000" stroke-width="1" />
<line x1="41.5" y1="222.5" x2="43.5" y2="222.5" stroke="#000" stroke-width="1" />
<line x1="44.5" y1="214" x2="44.5" y2="232" stroke="#000" stroke-width="1" />
<line x1="42.5" y1="225.5" x2="44.5" y2="225.5" stroke="#000" stroke-width="1" />
<line x1="44.5" y1="218.5" x2="46.5" y2="218.5" stroke="#000" stroke-width="1" />
<line x1="46.5" y1="220" x2="46.5" y2="225" stroke="#000" stroke-width="1" />
<line x1="44.5" y1="221.5" x2="46.5" y2="221.5" stroke="#000" stroke-width="1" />
<line x1="46.5" y1="222.5" x2="48.5" y2="222.5" stroke="#000" stroke-width="1" />
<line x1="48.5" y1="218" x2="48.5" y2="225" stroke="#000" stroke-width="1" />
<line x1="46.5" y1="220.5" x2="48.5" y2="220.5" stroke="#000" stroke-width="1" />
<line x1="48.5" y1="220.5" x2="50.5" y2="220.5" stroke="#000" stroke-width="1" />
<line x1="51.5" y1="219" x2="51.5" y2="224" stroke="#000" stroke-width="1" />
<line x1="49.5" y1="220.5" x2="51.5" y2="220.5" stroke="#000" stroke-width="1" />
<line x1="51.5" y1="221.5" x2="53.5" y2="221.5" stroke="#000" stroke-width="1" />
<line x1="52.5" y1="218" x2="52.5" y2="233" stroke="#000" stroke-width="1" />
<line x1="50.5" y1="227.5" x2="52.5" y2="227.5" stroke="#000" stroke-width="1" />
<line x1="52.5" y1="230.5" x2="54.5" y2="230.5" stroke="#000" stroke-width="1" />
<line x1="54.5" y1="231" x2="54.5" y2="238" stroke="#000" stroke-width="1" />
<line x1="52.5" y1="235.5" x2="54.5" y2="235.5" stroke="#000" stroke-width="1" />
<line x1="54.5" y1="234.5" x2="56.5" y2="234.5" stroke="#000" stroke-width="1" />
<line x1="56.5" y1="230" x2="56.5" y2="247" stroke="#ff0000" stroke-width="1" />
<line x1="54.5" y1="243.5" x2="56.5" y2="243.5" stroke="#ff0000" stroke-width="1" />
<line x1="56.5" y1="234.5" x2="58.5" y2="234.5" stroke="#ff0000" stroke-width="1" />
<line x1="59.5" y1="225" x2="59.5" y2="259" stroke="#000" stroke-width="1" />
<line x1="57.5" y1="249.5" x2="59.5" y2="249.5" stroke="#000" stroke-width="1" />
<line x1="59.5" y1="238.5" x2="61.5" y2="238.5" stroke="#000" stroke-width="1" />
<line x1="62.5" y1="226" x2="62.5" y2="250" stroke="#000" stroke-width="1" />
<line x1="60.5" y1="233.5" x2="62.5" y2="233.5" stroke="#000" stroke-width="1" />
<line x1="62.5" y1="232.5" x2="64.5" y2="232.5" stroke="#000" stroke-width="1" />
<line x1="64.5" y1="245" x2="64.5" y2="250" stroke="#000" stroke-width="1" />
<line x1="62.5" y1="246.5" x2="64.5" y2="246.5" stroke="#000" stroke-width="1" />
<line x1="64.5" y1="248.5" x2="66.5" y2="248.5" stroke="#000" stroke-width="1" />
<line x1="66.5" y1="246" x2="66.5" y2="251" stroke="#000" stroke-width="1" />
<line x1="64.5" y1="249.5" x2="66.5" y2="249.5" stroke="#000" stroke-width="1" />
<line x1="66.5" y1="247.5" x2="68.5" y2="247.5" stroke="#000" stroke-width="1" />
<line x1="68.5" y1="248" x2="68.5" y2="254" stroke="#000" stroke-width="1" />
<line x1="66.5" y1="249.5" x2="68.5" y2="249.5" stroke="#000" stroke-width="1" />
<line x1="68.5" y1="250.5" x2="70.5" y2="250.5" stroke="#000" stroke-width="1" />
<line x1="70.5" y1="246" x2="70.5" y2="249" stroke="#000" stroke-width="1" />
<line x1="68.5" y1="247.5" x2="70.5" y2="247.5" stroke="#000" stroke-width="1" />
<line x1="70.5" y1="248.5" x2="72.5" y2="248.5" stroke="#000" stroke-width="1" />
<line x1="73.5" y1="246" x2="73.5" y2="249" stroke="#000" stroke-width="1" />
<line x1="71.5" y1="248.5" x2="73.5" y2="248.5" stroke="#000" stroke-width="1" />
<line x1="73.5" y1="248.5" x2="75.5" y2="248.5" stroke="#000" stroke-width="1" />
<line x1="76.5" y1="245" x2="76.5" y2="249" stroke="#000" stroke-width="1" />
<line x1="74.5" y1="247.5" x2="76.5" y2="247.5" stroke="#000" stroke-width="1" />
<line x1="76.5" y1="248.5" x2="78.5" y2="248.5" stroke="#000" stroke-width="1" />
<line x1="78.5" y1="244" x2="78.5" y2="248" stroke="#000" stroke-width="1" />
<line x1="76.5" y1="247.5" x2="78.5" y2="247.5" stroke="#000" stroke-width="1" />
<line x1="78.5" y1="245.5" x2="80.5" y2="245.5" stroke="#000" stroke-width="1" />
<line x1="80.5" y1="231" x2="80.5" y2="246" stroke="#000" stroke-width="1" />
<line x1="78.5" y1="243.5" x2="80.5" y2="243.5" stroke="#000" stroke-width="1" />
<line x1="80.5" y1="235.5" x2="82.5" y2="235.5" stroke="#000" stroke-width="1" />
<line x1="83.5" y1="236" x2="83.5" y2="252" stroke="#000" stroke-width="1" />
<line x1="81.5" y1="243.5" x2="83.5" y2="243.5" stroke="#000" stroke-width="1" />
<line x1="83.5" y1="246.5" x2="85.5" y2="246.5" stroke="#000" stroke-width="1" />
<line x1="86.5" y1="243" x2="86.5" y2="254" stroke="#000" stroke-width="1" />
<line x1="84.5" y1="246.5" x2="86.5" y2="246.5" stroke="#000" stroke-width="1" />
<line x1="86.5" y1="248.5" x2="88.5" y2="248.5" stroke="#000" stroke-width="1" />
<line x1="88.5" y1="248" x2="88.5" y2="252" stroke="#000" stroke-width="1" />
<line x1="86.5" y1="251.5" x2="88.5" y2="251.5" stroke="#000" stroke-width="1" />
<line x1="88.5" y1="250.5" x2="90.5" y2="250.5" stroke="#000" stroke-width="1" />
<line x1="90.5" y1="250" x2="90.5" y2="252" stroke="#000" stroke-width="1" />
<line x1="88.5" y1="251.5" x2="90.5" y2="251.5" stroke="#000" stroke-width="1" />
<line x1="90.5" y1="251.5" x2="92.5" y2="251.5" stroke="#000" stroke-width="1" />
<line x1="92.5" y1="249" x2="92.5" y2="252" stroke="#000" stroke-width="1" />
<line x1="90.5" y1="251.5" x2="92.5" y2="251.5" stroke="#000" stroke-width="1" />
<line x1="92.5" y1="251.5" x2="94.5" y2="251.5" stroke="#000" stroke-width="1" />
<line x1="94.5" y1="242" x2="94.5" y2="248" stroke="#000" stroke-width="1" />
<line x1="92.5" y1="245.5" x2="94.5" y2="245.5" stroke="#000" stroke-width="1" />
<line x1="94.5" y1="246.5" x2="96.5" y2="246.5" stroke="#000" stroke-width="1" />
<line x1="97.5" y1="236" x2="97.5" y2="253" stroke="#000" stroke-width="1" />
<line x1="95.5" y1="240.5" x2="97.5" y2="240.5" stroke="#000" stroke-width="1" />
<line x1="97.5" y1="247.5" x2="99.5" y2="247.5" stroke="#000" stroke-width="1" />
<line x1="100.5" y1="240" x2="100.5" y2="245" stroke="#000" stroke-width="1" />
<line x1="98.5" y1="243.5" x2="100.5" y2="243.5" stroke="#000" stroke-width="1" />
<line x1="100.5" y1="244.5" x2="102.5" y2="244.5" stroke="#000" stroke-width="1" />
<line x1="102.5" y1="242" x2="102.5" y2="247" stroke="#000" stroke-width="1" />
<line x1="100.5" y1="244.5" x2="102.5" y2="244.5" stroke="#000" stroke-width="1" />
<line x1="102.5" y1="245.5" x2="104.5" y2="245.5" stroke="#000" stroke-width="1" />
<line x1="104.5" y1="239" x2="104.5" y2="247" stroke="#000" stroke-width="1" />
<line x1="102.5" y1="241.5" x2="104.5" y2="241.5" stroke="#000" stroke-width="1" />
<line x1="104.5" y1="241.5" x2="106.5" y2="241.5" stroke="#000" stroke-width="1" />
<line x1="107.5" y1="238" x2="107.5" y2="245" stroke="#000" stroke-width="1" />
<line x1="105.5" y1="240.5" x2="107.5" y2="240.5" stroke="#000" stroke-width="1" />
<line x1="107.5" y1="243.5" x2="109.5" y2="243.5" stroke="#000" stroke-width="1" />
<line x1="111.5" y1="244" x2="111.5" y2="250" stroke="#000" stroke-width="1" />
<line x1="109.5" y1="246.5" x2="111.5" y2="246.5" stroke="#000" stroke-width="1" />
<line x1="111.5" y1="246.5" x2="113.5" y2="246.5" stroke="#000" stroke-width="1" />
<line x1="114.5" y1="246" x2="114.5" y2="259" stroke="#000" stroke-width="1" />
<line x1="112.5" y1="252.5" x2="114.5" y2="252.5" stroke="#000" stroke-width="1" />
<line x1="114.5" y1="255.5" x2="116.5" y2="255.5" stroke="#000" stroke-width="1" />
<line x1="117.5" y1="249" x2="117.5" y2="260" stroke="#000" stroke-width="1" />
<line x1="115.5" y1="252.5" x2="117.5" y2="252.5" stroke="#000" stroke-width="1" />
<line x1="117.5" y1="254.5" x2="119.5" y2="254.5" stroke="#000" stroke-width="1" />
<line x1="120.5" y1="249" x2="120.5" y2="256" stroke="#000" stroke-width="1" />
<line x1="118.5" y1="253.5" x2="120.5" y2="253.5" stroke="#000" stroke-width="1" />
<line x1="120.5" y1="254.5" x2="122.5" y2="254.5" stroke="#000" stroke-width="1" />
<line x1="124.5" y1="218" x2="124.5" y2="245" stroke="#ff0000" stroke-width="1" />
<line x1="122.5" y1="237.5" x2="124.5" y2="237.5" stroke="#ff0000" stroke-width="1" />
<line x1="124.5" y1="237.5" x2="126.5" y2="237.5" stroke="#ff0000" stroke-width="1" />
<line x1="126.5" y1="218" x2="126.5" y2="240" stroke="#000" stroke-width="1" />
<line x1="124.5" y1="226.5" x2="126.5" y2="226.5" stroke="#000" stroke-width="1" />
<line x1="126.5" y1="228.5" x2="128.5" y2="228.5" stroke="#000" stroke-width="1" />
<line x1="128.5" y1="228" x2="128.5" y2="232" stroke="#000" stroke-width="1" />
<line x1="126.5" y1="230.5" x2="128.5" y2="230.5" stroke="#000" stroke-width="1" />
<line x1="128.5" y1="231.5" x2="130.5" y2="231.5" stroke="#000" stroke-width="1" />
<line x1="130.5" y1="230" x2="130.5" y2="234" stroke="#000" stroke-width="1" />
<line x1="128.5" y1="233.5" x2="130.5" y2="233.5" stroke="#000" stroke-width="1" />
<line x1="130.5" y1="231.5" x2="132.5" y2="231.5" stroke="#000" stroke-width="1" />
<line x1="132.5" y1="223" x2="132.5" y2="232" stroke="#000" stroke-width="1" />
<line x1="130.5" y1="226.5" x2="132.5" y2="226.5" stroke="#000" stroke-width="1" />
<line x1="132.5" y1="226.5" x2="134.5" y2="226.5" stroke="#000" stroke-width="1" />
<line x1="135.5" y1="212" x2="135.5" y2="240" stroke="#000" stroke-width="1" />
<line x1="133.5" y1="222.5" x2="135.5" y2="222.5" stroke="#000" stroke-width="1" />
<line x1="135.5" y1="226.5" x2="137.5" y2="226.5" stroke="#000" stroke-width="1" />
<line x1="137.5" y1="236" x2="137.5" y2="240" stroke="#000" stroke-width="1" />
<line x1="135.5" y1="237.5" x2="137.5" y2="237.5" stroke="#000" stroke-width="1" />
<line x1="137.5" y1="238.5" x2="139.5" y2="238.5" stroke="#000" stroke-width="1" />
<line x1="140.5" y1="236" x2="140.5" y2="239" stroke="#000" stroke-width="1" />
<line x1="138.5" y1="238.5" x2="140.5" y2="238.5" stroke="#000" stroke-width="1" />
<line x1="140.5" y1="238.5" x2="142.5" y2="238.5" stroke="#000" stroke-width="1" />
<line x1="143.5" y1="243" x2="143.5" y2="246" stroke="#000" stroke-width="1" />
<line x1="141.5" y1="245.5" x2="143.5" y2="245.5" stroke="#000" stroke-width="1" />
<line x1="143.5" y1="244.5" x2="145.5" y2="244.5" stroke="#000" stroke-width="1" />
<line x1="145.5" y1="244" x2="145.5" y2="246" stroke="#000" stroke-width="1" />
<line x1="143.5" y1="245.5" x2="145.5" y2="245.5" stroke="#000" stroke-width="1" />
<line x1="145.5" y1="245.5" x2="147.5" y2="245.5" stroke="#000" stroke-width="1" />
<line x1="147.5" y1="243" x2="147.5" y2="246" stroke="#000" stroke-width="1" />
<line x1="145.5" y1="244.5" x2="147.5" y2="244.5" stroke="#000" stroke-width="1" />
<line x1="147.5" y1="245.5" x2="149.5" y2="245.5" stroke="#000" stroke-width="1" />
<line x1="149.5" y1="242" x2="149.5" y2="247" stroke="#000" stroke-width="1" />
<line x1="147.5" y1="244.5" x2="149.5" y2="244.5" stroke="#000" stroke-width="1" />
<line x1="149.5" y1="244.5" x2="151.5" y2="244.5" stroke="#000" stroke-width="1" />
<line x1="151.5" y1="243" x2="151.5" y2="247" stroke="#000" stroke-width="1" />
<line x1="149.5" y1="243.5" x2="151.5" y2="243.5" stroke="#000" stroke-width="1" />
<line x1="151.5" y1="244.5" x2="153.5" y2="244.5" stroke="#000" stroke-width="1" />
<line x1="154.5" y1="218" x2="154.5" y2="245" stroke="#000" stroke-width="1" />
<line x1="152.5" y1="225.5" x2="154.5" y2="225.5" stroke="#000" stroke-width="1" />
<line x1="154.5" y1="229.5" x2="156.5" y2="229.5" stroke="#000" stroke-width="1" />
<line x1="156.5" y1="225" x2="156.5" y2="242" stroke="#000" stroke-width="1" />
<line x1="154.5" y1="229.5" x2="156.5" y2="229.5" stroke="#000" stroke-width="1" />
<line x1="156.5" y1="237.5" x2="158.5" y2="237.5" stroke="#000" stroke-width="1" />
<line x1="160.5" y1="218" x2="160.5" y2="245" stroke="#000" stroke-width="1" />
<line x1="158.5" y1="233.5" x2="160.5" y2="233.5" stroke="#000" stroke-width="1" />
<line x1="160.5" y1="226.5" x2="162.5" y2="226.5" stroke="#000" stroke-width="1" />
<line x1="162.5" y1="229" x2="162.5" y2="235" stroke="#000" stroke-width="1" />
<line x1="160.5" y1="231.5" x2="162.5" y2="231.5" stroke="#000" stroke-width="1" />
<line x1="162.5" y1="230.5" x2="164.5" y2="230.5" stroke="#000" stroke-width="1" />
<line x1="164.5" y1="230" x2="164.5" y2="233" stroke="#000" stroke-width="1" />
<line x1="162.5" y1="232.5" x2="164.5" y2="232.5" stroke="#000" stroke-width="1" />
<line x1="164.5" y1="232.5" x2="166.5" y2="232.5" stroke="#000" stroke-width="1" />
<line x1="167.5" y1="233" x2="167.5" y2="242" stroke="#000" stroke-width="1" />
<line x1="165.5" y1="237.5" x2="167.5" y2="237.5" stroke="#000" stroke-width="1" />
<line x1="167.5" y1="236.5" x2="169.5" y2="236.5" stroke="#000" stroke-width="1" />
<line x1="169.5" y1="236" x2="169.5" y2="241" stroke="#000" stroke-width="1" />
<line x1="167.5" y1="237.5" x2="169.5" y2="237.5" stroke="#000" stroke-width="1" />
<line x1="169.5" y1="240.5" x2="171.5" y2="240.5" stroke="#000" stroke-width="1" />
<line x1="171.5" y1="235" x2="171.5" y2="242" stroke="#000" stroke-width="1" />
<line x1="169.5" y1="238.5" x2="171.5" y2="238.5" stroke="#000" stroke-width="1" />
<line x1="171.5" y1="236.5" x2="173.5" y2="236.5" stroke="#000" stroke-width="1" />
<line x1="173.5" y1="235" x2="173.5" y2="239" stroke="#000" stroke-width="1" />
<line x1="171.5" y1="238.5" x2="173.5" y2="238.5" stroke="#000" stroke-width="1" />
<line x1="173.5" y1="237.5" x2="175.5" y2="237.5" stroke="#000" stroke-width="1" />
<line x1="176.5" y1="234" x2="176.5" y2="241" stroke="#000" stroke-width="1" />
<line x1="174.5" y1="236.5" x2="176.5" y2="236.5" stroke="#000" stroke-width="1" />
<line x1="176.5" y1="238.5" x2="178.5" y2="238.5" stroke="#000" stroke-width="1" />
<line x1="178.5" y1="235" x2="178.5" y2="240" stroke="#000" stroke-width="1" />
<line x1="176.5" y1="237.5" x2="178.5" y2="237.5" stroke="#000" stroke-width="1" />
<line x1="178.5" y1="236.5" x2="180.5" y2="236.5" stroke="#000" stroke-width="1" />
<line x1="180.5" y1="236" x2="180.5" y2="239" stroke="#000" stroke-width="1" />
<line x1="178.5" y1="238.5" x2="180.5" y2="238.5" stroke="#000" stroke-width="1" />
<line x1="180.5" y1="238.5" x2="182.5" y2="238.5" stroke="#000" stroke-width="1" />
<line x1="182.5" y1="236" x2="182.5" y2="240" stroke="#000" stroke-width="1" />
<line x1="180.5" y1="237.5" x2="182.5" y2="237.5" stroke="#000" stroke-width="1" />
<line x1="182.5" y1="238.5" x2="184.5" y2="238.5" stroke="#000" stroke-width="1" />
<line x1="184.5" y1="235" x2="184.5" y2="242" stroke="#000" stroke-width="1" />
<line x1="182.5" y1="236.5" x2="184.5" y2="236.5" stroke="#000" stroke-width="1" />
<line x1="184.5" y1="238.5" x2="186.5" y2="238.5" stroke="#000" stroke-width="1" />
<line x1="186.5" y1="235" x2="186.5" y2="240" stroke="#000" stroke-width="1" />
<line x1="184.5" y1="239.5" x2="186.5" y2="239.5" stroke="#000" stroke-width="1" />
<line x1="186.5" y1="237.5" x2="188.5" y2="237.5" stroke="#000" stroke-width="1" />
<line x1="188.5" y1="237" x2="188.5" y2="239" stroke="#000" stroke-width="1" />
<line x1="186.5" y1="239.5" x2="188.5" y2="239.5" stroke="#000" stroke-width="1" />
<line x1="188.5" y1="238.5" x2="190.5" y2="238.5" stroke="#000" stroke-width="1" />
<line x1="190.5" y1="235" x2="190.5" y2="241" stroke="#000" stroke-width="1" />
<line x1="188.5" y1="237.5" x2="190.5" y2="237.5" stroke="#000" stroke-width="1" />
<line x1="190.5" y1="237.5" x2="192.5" y2="237.5" stroke="#000" stroke-width="1" />
<line x1="192.5" y1="236" x2="192.5" y2="239" stroke="#000" stroke-width="1" />
<line x1="190.5" y1="238.5" x2="192.5" y2="238.5" stroke="#000" stroke-width="1" />
<line x1="192.5" y1="238.5" x2="194.5" y2="238.5" stroke="#000" stroke-width="1" />
<line x1="194.5" y1="241" x2="194.5" y2="244" stroke="#000" stroke-width="1" />
<line x1="192.5" y1="242.5" x2="194.5" y2="242.5" stroke="#000" stroke-width="1" />
<line x1="194.5" y1="243.5" x2="196.5" y2="243.5" stroke="#000" stroke-width="1" />
<line x1="197.5" y1="242" x2="197.5" y2="244" stroke="#000" stroke-width="1" />
<line x1="195.5" y1="244.5" x2="197.5" y2="244.5" stroke="#000" stroke-width="1" />
<line x1="197.5" y1="243.5" x2="199.5" y2="243.5" stroke="#000" stroke-width="1" />
<line x1="198.5" y1="245" x2="198.5" y2="253" stroke="#000" stroke-width="1" />
<line x1="196.5" y1="247.5" x2="198.5" y2="247.5" stroke="#000" stroke-width="1" />
<line x1="198.5" y1="250.5" x2="200.5" y2="250.5" stroke="#000" stroke-width="1" />
<line x1="200.5" y1="250" x2="200.5" y2="255" stroke="#000" stroke-width="1" />
<line x1="198.5" y1="252.5" x2="200.5" y2="252.5" stroke="#000" stroke-width="1" />
<line x1="200.5" y1="253.5" x2="202.5" y2="253.5" stroke="#000" stroke-width="1" />
<line x1="203.5" y1="253" x2="203.5" y2="268" stroke="#000" stroke-width="1" />
<line x1="201.5" y1="265.5" x2="203.5" y2="265.5" stroke="#000" stroke-width="1" />
<line x1="203.5" y1="260.5" x2="205.5" y2="260.5" stroke="#000" stroke-width="1" />
<line x1="206.5" y1="258" x2="206.5" y2="262" stroke="#000" stroke-width="1" />
<line x1="204.5" y1="261.5" x2="206.5" y2="261.5" stroke="#000" stroke-width="1" />
<line x1="206.5" y1="259.5" x2="208.5" y2="259.5" stroke="#000" stroke-width="1" />
<line x1="208.5" y1="257" x2="208.5" y2="265" stroke="#000" stroke-width="1" />
<line x1="206.5" y1="263.5" x2="208.5" y2="263.5" stroke="#000" stroke-width="1" />
<line x1="208.5" y1="262.5" x2="210.5" y2="262.5" stroke="#000" stroke-width="1" />
<line x1="210.5" y1="257" x2="210.5" y2="263" stroke="#000" stroke-width="1" />
<line x1="208.5" y1="262.5" x2="210.5" y2="262.5" stroke="#000" stroke-width="1" />
<line x1="210.5" y1="261.5" x2="212.5" y2="261.5" stroke="#000" stroke-width="1" />
<line x1="212.5" y1="258" x2="212.5" y2="263" stroke="#000" stroke-width="1" />
<line x1="210.5" y1="260.5" x2="212.5" y2="260.5" stroke="#000" stroke-width="1" />
<line x1="212.5" y1="259.5" x2="214.5" y2="259.5" stroke="#000" stroke-width="1" />
<line x1="214.5" y1="260" x2="214.5" y2="263" stroke="#000" stroke-width="1" />
<line x1="212.5" y1="262.5" x2="214.5" y2="262.5" stroke="#000" stroke-width="1" />
<line x1="214.5" y1="262.5" x2="216.5" y2="262.5" stroke="#000" stroke-width="1" />
<line x1="216.5" y1="253" x2="216.5" y2="262" stroke="#000" stroke-width="1" />
<line x1="214.5" y1="257.5" x2="216.5" y2="257.5" stroke="#000" stroke-width="1" />
<line x1="216.5" y1="260.5" x2="218.5" y2="260.5" stroke="#000" stroke-width="1" />
<line x1="218.5" y1="260" x2="218.5" y2="264" stroke="#000" stroke-width="1" />
<line x1="216.5" y1="261.5" x2="218.5" y2="261.5" stroke="#000" stroke-width="1" />
<line x1="218.5" y1="261.5" x2="220.5" y2="261.5" stroke="#000" stroke-width="1" />
<line x1="220.5" y1="259" x2="220.5" y2="263" stroke="#000" stroke-width="1" />
<line x1="218.5" y1="260.5" x2="220.5" y2="260.5" stroke="#000" stroke-width="1" />
<line x1="220.5" y1="260.5" x2="222.5" y2="260.5" stroke="#000" stroke-width="1" />
<line x1="222.5" y1="258" x2="222.5" y2="262" stroke="#000" stroke-width="1" />
<line x1="220.5" y1="260.5" x2="222.5" y2="260.5" stroke="#000" stroke-width="1" />
<line x1="222.5" y1="260.5" x2="224.5" y2="260.5" stroke="#000" stroke-width="1" />
<line x1="224.5" y1="259" x2="224.5" y2="262" stroke="#000" stroke-width="1" />
<line x1="222.5" y1="261.5" x2="224.5" y2="261.5" stroke="#000" stroke-width="1" />
<line x1="224.5" y1="261.5" x2="226.5" y2="261.5" stroke="#000" stroke-width="1" />
<line x1="226.5" y1="259" x2="226.5" y2="263" stroke="#000" stroke-width="1" />
<line x1="224.5" y1="261.5" x2="226.5" y2="261.5" stroke="#000" stroke-width="1" />
<line x1="226.5" y1="260.5" x2="228.5" y2="260.5" stroke="#000" stroke-width="1" />
<line x1="229.5" y1="235" x2="229.5" y2="260" stroke="#000" stroke-width="1" />
<line x1="227.5" y1="247.5" x2="229.5" y2="247.5" stroke="#000" stroke-width="1" />
<line x1="229.5" y1="243.5" x2="231.5" y2="243.5" stroke="#000" stroke-width="1" />
<line x1="231.5" y1="229" x2="231.5" y2="245" stroke="#ff0000" stroke-width="1" />
<line x1="229.5" y1="232.5" x2="231.5" y2="232.5" stroke="#ff0000" stroke-width="1" />
<line x1="231.5" y1="240.5" x2="233.5" y2="240.5" stroke="#ff0000" stroke-width="1" />
<line x1="234.5" y1="240" x2="234.5" y2="244" stroke="#000" stroke-width="1" />
<line x1="232.5" y1="241.5" x2="234.5" y2="241.5" stroke="#000" stroke-width="1" />
<line x1="234.5" y1="242.5" x2="236.5" y2="242.5" stroke="#000" stroke-width="1" />
<line x1="238.5" y1="243" x2="238.5" y2="252" stroke="#000" stroke-width="1" />
<line x1="236.5" y1="249.5" x2="238.5" y2="249.5" stroke="#000" stroke-width="1" />
<line x1="238.5" y1="248.5" x2="240.5" y2="248.5" stroke="#000" stroke-width="1" />
<line x1="240.5" y1="240" x2="240.5" y2="242" stroke="#000" stroke-width="1" />
<line x1="238.5" y1="241.5" x2="240.5" y2="241.5" stroke="#000" stroke-width="1" />
<line x1="240.5" y1="242.5" x2="242.5" y2="242.5" stroke="#000" stroke-width="1" />
<line x1="243.5" y1="240" x2="243.5" y2="242" stroke="#000" stroke-width="1" />
<line x1="241.5" y1="241.5" x2="243.5" y2="241.5" stroke="#000" stroke-width="1" />
<line x1="243.5" y1="241.5" x2="245.5" y2="241.5" stroke="#000" stroke-width="1" />
<line x1="245.5" y1="241" x2="245.5" y2="242" stroke="#000" stroke-width="1" />
<line x1="243.5" y1="242.5" x2="245.5" y2="242.5" stroke="#000" stroke-width="1" />
<line x1="245.5" y1="242.5" x2="247.5" y2="242.5" stroke="#000" stroke-width="1" />
<line x1="247.5" y1="232" x2="247.5" y2="243" stroke="#000" stroke-width="1" />
<line x1="245.5" y1="240.5" x2="247.5" y2="240.5" stroke="#000" stroke-width="1" />
<line x1="247.5" y1="237.5" x2="249.5" y2="237.5" stroke="#000" stroke-width="1" />
<line x1="249.5" y1="230" x2="249.5" y2="238" stroke="#000" stroke-width="1" />
<line x1="247.5" y1="235.5" x2="249.5" y2="235.5" stroke="#000" stroke-width="1" />
<line x1="249.5" y1="234.5" x2="251.5" y2="234.5" stroke="#000" stroke-width="1" />
<line x1="251.5" y1="210" x2="251.5" y2="230" stroke="#ff0000" stroke-width="1" />
<line x1="249.5" y1="220.5" x2="251.5" y2="220.5" stroke="#ff0000" stroke-width="1" />
<line x1="251.5" y1="222.5" x2="253.5" y2="222.5" stroke="#ff0000" stroke-width="1" />
<line x1="253.5" y1="216" x2="253.5" y2="227" stroke="#000" stroke-width="1" />
<line x1="251.5" y1="221.5" x2="253.5" y2="221.5" stroke="#000" stroke-width="1" />
<line x1="253.5" y1="224.5" x2="255.5" y2="224.5" stroke="#000" stroke-width="1" />
<line x1="256.5" y1="217" x2="256.5" y2="225" stroke="#000" stroke-width="1" />
<line x1="254.5" y1="223.5" x2="256.5" y2="223.5" stroke="#000" stroke-width="1" />
<line x1="256.5" y1="220.5" x2="258.5" y2="220.5" stroke="#000" stroke-width="1" />
<line x1="258.5" y1="215" x2="258.5" y2="223" stroke="#000" stroke-width="1" />
<line x1="256.5" y1="220.5" x2="258.5" y2="220.5" stroke="#000" stroke-width="1" />
<line x1="258.5" y1="217.5" x2="260.5" y2="217.5" stroke="#000" stroke-width="1" />
<line x1="260.5" y1="213" x2="260.5" y2="226" stroke="#000" stroke-width="1" />
<line x1="258.5" y1="216.5" x2="260.5" y2="216.5" stroke="#000" stroke-width="1" />
<line x1="260.5" y1="217.5" x2="262.5" y2="217.5" stroke="#000" stroke-width="1" />
<line x1="262.5" y1="212" x2="262.5" y2="220" stroke="#000" stroke-width="1" />
<line x1="260.5" y1="217.5" x2="262.5" y2="217.5" stroke="#000" stroke-width="1" />
<line x1="262.5" y1="218.5" x2="264.5" y2="218.5" stroke="#000" stroke-width="1" />
<line x1="264.5" y1="213" x2="264.5" y2="219" stroke="#000" stroke-width="1" />
<line x1="262.5" y1="217.5" x2="264.5" y2="217.5" stroke="#000" stroke-width="1" />
<line x1="264.5" y1="215.5" x2="266.5" y2="215.5" stroke="#000" stroke-width="1" />
<line x1="266.5" y1="215" x2="266.5" y2="219" stroke="#000" stroke-width="1" />
<line x1="264.5" y1="216.5" x2="266.5" y2="216.5" stroke="#000" stroke-width="1" />
<line x1="266.5" y1="218.5" x2="268.5" y2="218.5" stroke="#000" stroke-width="1" />
<line x1="268.5" y1="213" x2="268.5" y2="220" stroke="#000" stroke-width="1" />
<line x1="266.5" y1="219.5" x2="268.5" y2="219.5" stroke="#000" stroke-width="1" />
<line x1="268.5" y1="218.5" x2="270.5" y2="218.5" stroke="#000" stroke-width="1" />
<line x1="270.5" y1="203" x2="270.5" y2="215" stroke="#ff0000" stroke-width="1" />
<line x1="268.5" y1="207.5" x2="270.5" y2="207.5" stroke="#ff0000" stroke-width="1" />
<line x1="270.5" y1="209.5" x2="272.5" y2="209.5" stroke="#ff0000" stroke-width="1" />
<line x1="272.5" y1="203" x2="272.5" y2="207" stroke="#000" stroke-width="1" />
<line x1="270.5" y1="204.5" x2="272.5" y2="204.5" stroke="#000" stroke-width="1" />
<line x1="272.5" y1="205.5" x2="274.5" y2="205.5" stroke="#000" stroke-width="1" />
<line x1="274.5" y1="204" x2="274.5" y2="208" stroke="#000" stroke-width="1" />
<line x1="272.5" y1="206.5" x2="274.5" y2="206.5" stroke="#000" stroke-width="1" />
<line x1="274.5" y1="206.5" x2="276.5" y2="206.5" stroke="#000" stroke-width="1" />
<line x1="276.5" y1="202" x2="276.5" y2="207" stroke="#000" stroke-width="1" />
<line x1="274.5" y1="205.5" x2="276.5" y2="205.5" stroke="#000" stroke-width="1" />
<line x1="276.5" y1="205.5" x2="278.5" y2="205.5" stroke="#000" stroke-width="1" />
<line x1="278.5" y1="207" x2="278.5" y2="210" stroke="#000" stroke-width="1" />
<line x1="276.5" y1="209.5" x2="278.5" y2="209.5" stroke="#000" stroke-width="1" />
<line x1="278.5" y1="210.5" x2="280.5" y2="210.5" stroke="#000" stroke-width="1" />
<line x1="280.5" y1="207" x2="280.5" y2="212" stroke="#000" stroke-width="1" />
<line x1="278.5" y1="208.5" x2="280.5" y2="208.5" stroke="#000" stroke-width="1" />
<line x1="280.5" y1="210.5" x2="282.5" y2="210.5" stroke="#000" stroke-width="1" />
<line x1="282.5" y1="202" x2="282.5" y2="207" stroke="#000" stroke-width="1" />
<line x1="280.5" y1="204.5" x2="282.5" y2="204.5" stroke="#000" stroke-width="1" />
<line x1="282.5" y1="203.5" x2="284.5" y2="203.5" stroke="#000" stroke-width="1" />
<line x1="284.5" y1="197" x2="284.5" y2="205" stroke="#ff0000" stroke-width="1" />
<line x1="282.5" y1="201.5" x2="284.5" y2="201.5" stroke="#ff0000" stroke-width="1" />
<line x1="284.5" y1="203.5" x2="286.5" y2="203.5" stroke="#ff0000" stroke-width="1" />
<line x1="286.5" y1="193" x2="286.5" y2="197" stroke="#000" stroke-width="1" />
<line x1="284.5" y1="194.5" x2="286.5" y2="194.5" stroke="#000" stroke-width="1" />
<line x1="286.5" y1="196.5" x2="288.5" y2="196.5" stroke="#000" stroke-width="1" />
<line x1="288.5" y1="193" x2="288.5" y2="196" stroke="#000" stroke-width="1" />
<line x1="286.5" y1="194.5" x2="288.5" y2="194.5" stroke="#000" stroke-width="1" />
<line x1="288.5" y1="194.5" x2="290.5" y2="194.5" stroke="#000" stroke-width="1" />
<line x1="290.5" y1="193" x2="290.5" y2="196" stroke="#000" stroke-width="1" />
<line x1="288.5" y1="194.5" x2="290.5" y2="194.5" stroke="#000" stroke-width="1" />
<line x1="290.5" y1="196.5" x2="292.5" y2="196.5" stroke="#000" stroke-width="1" />
<line x1="291.5" y1="150" x2="291.5" y2="191" stroke="#ff0000" stroke-width="1" />
<line x1="289.5" y1="174.5" x2="291.5" y2="174.5" stroke="#ff0000" stroke-width="1" />
<line x1="291.5" y1="178.5" x2="293.5" y2="178.5" stroke="#ff0000" stroke-width="1" />
<line x1="293.5" y1="136" x2="293.5" y2="164" stroke="#ff0000" stroke-width="1" />
<line x1="291.5" y1="143.5" x2="293.5" y2="143.5" stroke="#ff0000" stroke-width="1" />
<line x1="293.5" y1="156.5" x2="295.5" y2="156.5" stroke="#ff0000" stroke-width="1" />
<line x1="294.5" y1="160" x2="294.5" y2="167" stroke="#000" stroke-width="1" />
<line x1="292.5" y1="163.5" x2="294.5" y2="163.5" stroke="#000" stroke-width="1" />
<line x1="294.5" y1="163.5" x2="296.5" y2="163.5" stroke="#000" stroke-width="1" />
<line x1="297.5" y1="162" x2="297.5" y2="167" stroke="#000" stroke-width="1" />
<line x1="295.5" y1="164.5" x2="297.5" y2="164.5" stroke="#000" stroke-width="1" />
<line x1="297.5" y1="163.5" x2="299.5" y2="163.5" stroke="#000" stroke-width="1" />
<line x1="300.5" y1="162" x2="300.5" y2="169" stroke="#000" stroke-width="1" />
<line x1="298.5" y1="164.5" x2="300.5" y2="164.5" stroke="#000" stroke-width="1" />
<line x1="300.5" y1="164.5" x2="302.5" y2="164.5" stroke="#000" stroke-width="1" />
<line x1="300.5" y1="152" x2="300.5" y2="163" stroke="#000" stroke-width="1" />
<line x1="298.5" y1="155.5" x2="300.5" y2="155.5" stroke="#000" stroke-width="1" />
<line x1="300.5" y1="156.5" x2="302.5" y2="156.5" stroke="#000" stroke-width="1" />
<line x1="302.5" y1="163" x2="302.5" y2="169" stroke="#000" stroke-width="1" />
<line x1="300.5" y1="167.5" x2="302.5" y2="167.5" stroke="#000" stroke-width="1" />
<line x1="302.5" y1="165.5" x2="304.5" y2="165.5" stroke="#000" stroke-width="1" />
<line x1="305.5" y1="163" x2="305.5" y2="170" stroke="#000" stroke-width="1" />
<line x1="303.5" y1="166.5" x2="305.5" y2="166.5" stroke="#000" stroke-width="1" />
<line x1="305.5" y1="165.5" x2="307.5" y2="165.5" stroke="#000" stroke-width="1" />
<line x1="308.5" y1="163" x2="308.5" y2="170" stroke="#000" stroke-width="1" />
<line x1="306.5" y1="167.5" x2="308.5" y2="167.5" stroke="#000" stroke-width="1" />
<line x1="308.5" y1="167.5" x2="310.5" y2="167.5" stroke="#000" stroke-width="1" />
<line x1="310.5" y1="157" x2="310.5" y2="168" stroke="#000" stroke-width="1" />
<line x1="308.5" y1="160.5" x2="310.5" y2="160.5" stroke="#000" stroke-width="1" />
<line x1="310.5" y1="162.5" x2="312.5" y2="162.5" stroke="#000" stroke-width="1" />
<line x1="312.5" y1="162" x2="312.5" y2="165" stroke="#000" stroke-width="1" />
<line x1="310.5" y1="164.5" x2="312.5" y2="164.5" stroke="#000" stroke-width="1" />
<line x1="312.5" y1="163.5" x2="314.5" y2="163.5" stroke="#000" stroke-width="1" />
<line x1="315.5" y1="163" x2="315.5" y2="175" stroke="#000" stroke-width="1" />
<line x1="313.5" y1="171.5" x2="315.5" y2="171.5" stroke="#000" stroke-width="1" />
<line x1="315.5" y1="169.5" x2="317.5" y2="169.5" stroke="#000" stroke-width="1" />
<line x1="318.5" y1="164" x2="318.5" y2="165" stroke="#000" stroke-width="1" />
<line x1="316.5" y1="164.5" x2="318.5" y2="164.5" stroke="#000" stroke-width="1" />
<line x1="318.5" y1="164.5" x2="320.5" y2="164.5" stroke="#000" stroke-width="1" />
<line x1="320.5" y1="164" x2="320.5" y2="165" stroke="#000" stroke-width="1" />
<line x1="318.5" y1="164.5" x2="320.5" y2="164.5" stroke="#000" stroke-width="1" />
<line x1="320.5" y1="165.5" x2="322.5" y2="165.5" stroke="#000" stroke-width="1" />
<line x1="322.5" y1="164" x2="322.5" y2="165" stroke="#000" stroke-width="1" />
<line x1="320.5" y1="164.5" x2="322.5" y2="164.5" stroke="#000" stroke-width="1" />
<line x1="322.5" y1="164.5" x2="324.5" y2="164.5" stroke="#000" stroke-width="1" />
<line x1="324.5" y1="157" x2="324.5" y2="163" stroke="#000" stroke-width="1" />
<line x1="322.5" y1="158.5" x2="324.5" y2="158.5" stroke="#000" stroke-width="1" />
<line x1="324.5" y1="159.5" x2="326.5" y2="159.5" stroke="#000" stroke-width="1" />
<line x1="326.5" y1="163" x2="326.5" y2="166" stroke="#000" stroke-width="1" />
<line x1="324.5" y1="164.5" x2="326.5" y2="164.5" stroke="#000" stroke-width="1" />
<line x1="326.5" y1="164.5" x2="328.5" y2="164.5" stroke="#000" stroke-width="1" />
<line x1="328.5" y1="163" x2="328.5" y2="166" stroke="#000" stroke-width="1" />
<line x1="326.5" y1="165.5" x2="328.5" y2="165.5" stroke="#000" stroke-width="1" />
<line x1="328.5" y1="165.5" x2="330.5" y2="165.5" stroke="#000" stroke-width="1" />
<line x1="330.5" y1="166" x2="330.5" y2="175" stroke="#000" stroke-width="1" />
<line x1="328.5" y1="169.5" x2="330.5" y2="169.5" stroke="#000" stroke-width="1" />
<line x1="330.5" y1="169.5" x2="332.5" y2="169.5" stroke="#000" stroke-width="1" />
<line x1="331.5" y1="158" x2="331.5" y2="163" stroke="#ff0000" stroke-width="1" />
<line x1="329.5" y1="159.5" x2="331.5" y2="159.5" stroke="#ff0000" stroke-width="1" />
<line x1="331.5" y1="160.5" x2="333.5" y2="160.5" stroke="#ff0000" stroke-width="1" />
<line x1="334.5" y1="158" x2="334.5" y2="162" stroke="#ff0000" stroke-width="1" />
<line x1="332.5" y1="161.5" x2="334.5" y2="161.5" stroke="#ff0000" stroke-width="1" />
<line x1="334.5" y1="160.5" x2="336.5" y2="160.5" stroke="#ff0000" stroke-width="1" />
<line x1="336.5" y1="158" x2="336.5" y2="163" stroke="#000" stroke-width="1" />
<line x1="334.5" y1="160.5" x2="336.5" y2="160.5" stroke="#000" stroke-width="1" />
<line x1="336.5" y1="162.5" x2="338.5" y2="162.5" stroke="#000" stroke-width="1" />
<line x1="338.5" y1="157" x2="338.5" y2="161" stroke="#000" stroke-width="1" />
<line x1="336.5" y1="159.5" x2="338.5" y2="159.5" stroke="#000" stroke-width="1" />
<line x1="338.5" y1="159.5" x2="340.5" y2="159.5" stroke="#000" stroke-width="1" />
<line x1="340.5" y1="152" x2="340.5" y2="155" stroke="#000" stroke-width="1" />
<line x1="338.5" y1="153.5" x2="340.5" y2="153.5" stroke="#000" stroke-width="1" />
<line x1="340.5" y1="153.5" x2="342.5" y2="153.5" stroke="#000" stroke-width="1" />
<line x1="342.5" y1="152" x2="342.5" y2="154" stroke="#000" stroke-width="1" />
<line x1="340.5" y1="153.5" x2="342.5" y2="153.5" stroke="#000" stroke-width="1" />
<line x1="342.5" y1="153.5" x2="344.5" y2="153.5" stroke="#000" stroke-width="1" />
<line x1="343.5" y1="146" x2="343.5" y2="149" stroke="#000" stroke-width="1" />
<line x1="341.5" y1="147.5" x2="343.5" y2="147.5" stroke="#000" stroke-width="1" />
<line x1="343.5" y1="147.5" x2="345.5" y2="147.5" stroke="#000" stroke-width="1" />
<line x1="344.5" y1="146" x2="344.5" y2="150" stroke="#000" stroke-width="1" />
<line x1="342.5" y1="148.5" x2="344.5" y2="148.5" stroke="#000" stroke-width="1" />
<line x1="344.5" y1="148.5" x2="346.5" y2="148.5" stroke="#000" stroke-width="1" />
<line x1="346.5" y1="147" x2="346.5" y2="148" stroke="#000" stroke-width="1" />
<line x1="344.5" y1="147.5" x2="346.5" y2="147.5" stroke="#000" stroke-width="1" />
<line x1="346.5" y1="147.5" x2="348.5" y2="147.5" stroke="#000" stroke-width="1" />
<line x1="349.5" y1="146" x2="349.5" y2="148" stroke="#000" stroke-width="1" />
<line x1="347.5" y1="147.5" x2="349.5" y2="147.5" stroke="#000" stroke-width="1" />
<line x1="349.5" y1="147.5" x2="351.5" y2="147.5" stroke="#000" stroke-width="1" />
<line x1="351.5" y1="146" x2="351.5" y2="158" stroke="#000" stroke-width="1" />
<line x1="349.5" y1="154.5" x2="351.5" y2="154.5" stroke="#000" stroke-width="1" />
<line x1="351.5" y1="153.5" x2="353.5" y2="153.5" stroke="#000" stroke-width="1" />
<line x1="353.5" y1="157" x2="353.5" y2="159" stroke="#000" stroke-width="1" />
<line x1="351.5" y1="159.5" x2="353.5" y2="159.5" stroke="#000" stroke-width="1" />
<line x1="353.5" y1="158.5" x2="355.5" y2="158.5" stroke="#000" stroke-width="1" />
<line x1="355.5" y1="158" x2="355.5" y2="159" stroke="#000" stroke-width="1" />
<line x1="353.5" y1="158.5" x2="355.5" y2="158.5" stroke="#000" stroke-width="1" />
<line x1="355.5" y1="158.5" x2="357.5" y2="158.5" stroke="#000" stroke-width="1" />
<line x1="358.5" y1="158" x2="358.5" y2="159" stroke="#000" stroke-width="1" />
<line x1="356.5" y1="159.5" x2="358.5" y2="159.5" stroke="#000" stroke-width="1" />
<line x1="358.5" y1="159.5" x2="360.5" y2="159.5" stroke="#000" stroke-width="1" />
<line x1="360.5" y1="158" x2="360.5" y2="159" stroke="#000" stroke-width="1" />
<line x1="358.5" y1="158.5" x2="360.5" y2="158.5" stroke="#000" stroke-width="1" />
<line x1="360.5" y1="159.5" x2="362.5" y2="159.5" stroke="#000" stroke-width="1" />
<line x1="355.5" y1="157" x2="355.5" y2="163" stroke="#ff0000" stroke-width="1" />
<line x1="353.5" y1="159.5" x2="355.5" y2="159.5" stroke="#ff0000" stroke-width="1" />
<line x1="355.5" y1="158.5" x2="357.5" y2="158.5" stroke="#ff0000" stroke-width="1" />
<line x1="363.5" y1="125" x2="363.5" y2="156" stroke="#000" stroke-width="1" />
<line x1="361.5" y1="134.5" x2="363.5" y2="134.5" stroke="#000" stroke-width="1" />
<line x1="363.5" y1="138.5" x2="365.5" y2="138.5" stroke="#000" stroke-width="1" />
<line x1="364.5" y1="101" x2="364.5" y2="118" stroke="#ff0000" stroke-width="1" />
<line x1="362.5" y1="105.5" x2="364.5" y2="105.5" stroke="#ff0000" stroke-width="1" />
<line x1="364.5" y1="113.5" x2="366.5" y2="113.5" stroke="#ff0000" stroke-width="1" />
<line x1="367.5" y1="72" x2="367.5" y2="103" stroke="#ff0000" stroke-width="1" />
<line x1="365.5" y1="89.5" x2="367.5" y2="89.5" stroke="#ff0000" stroke-width="1" />
<line x1="367.5" y1="90.5" x2="369.5" y2="90.5" stroke="#ff0000" stroke-width="1" />
<line x1="368.5" y1="89" x2="368.5" y2="99" stroke="#000" stroke-width="1" />
<line x1="366.5" y1="95.5" x2="368.5" y2="95.5" stroke="#000" stroke-width="1" />
<line x1="368.5" y1="95.5" x2="370.5" y2="95.5" stroke="#000" stroke-width="1" />
<line x1="370.5" y1="90" x2="370.5" y2="95" stroke="#000" stroke-width="1" />
<line x1="368.5" y1="92.5" x2="370.5" y2="92.5" stroke="#000" stroke-width="1" />
<line x1="370.5" y1="91.5" x2="372.5" y2="91.5" stroke="#000" stroke-width="1" />
<line x1="371.5" y1="62" x2="371.5" y2="76" stroke="#ff0000" stroke-width="1" />
<line x1="369.5" y1="69.5" x2="371.5" y2="69.5" stroke="#ff0000" stroke-width="1" />
<line x1="371.5" y1="69.5" x2="373.5" y2="69.5" stroke="#ff0000" stroke-width="1" />
<line x1="373.5" y1="61" x2="373.5" y2="83" stroke="#ff0000" stroke-width="1" />
<line x1="371.5" y1="75.5" x2="373.5" y2="75.5" stroke="#ff0000" stroke-width="1" />
<line x1="373.5" y1="69.5" x2="375.5" y2="69.5" stroke="#ff0000" stroke-width="1" />
<line x1="375.5" y1="54" x2="375.5" y2="81" stroke="#ff0000" stroke-width="1" />
<line x1="373.5" y1="71.5" x2="375.5" y2="71.5" stroke="#ff0000" stroke-width="1" />
<line x1="375.5" y1="63.5" x2="377.5" y2="63.5" stroke="#ff0000" stroke-width="1" />
<line x1="376.5" y1="60" x2="376.5" y2="84" stroke="#ff0000" stroke-width="1" />
<line x1="374.5" y1="75.5" x2="376.5" y2="75.5" stroke="#ff0000" stroke-width="1" />
<line x1="376.5" y1="79.5" x2="378.5" y2="79.5" stroke="#ff0000" stroke-width="1" />
<line x1="377.5" y1="64" x2="377.5" y2="85" stroke="#000" stroke-width="1" />
<line x1="375.5" y1="74.5" x2="377.5" y2="74.5" stroke="#000" stroke-width="1" />
<line x1="377.5" y1="73.5" x2="379.5" y2="73.5" stroke="#000" stroke-width="1" />
<line x1="378.5" y1="61" x2="378.5" y2="75" stroke="#000" stroke-width="1" />
<line x1="376.5" y1="68.5" x2="378.5" y2="68.5" stroke="#000" stroke-width="1" />
<line x1="378.5" y1="70.5" x2="380.5" y2="70.5" stroke="#000" stroke-width="1" />
<line x1="380.5" y1="55" x2="380.5" y2="67" stroke="#000" stroke-width="1" />
<line x1="378.5" y1="63.5" x2="380.5" y2="63.5" stroke="#000" stroke-width="1" />
<line x1="380.5" y1="62.5" x2="382.5" y2="62.5" stroke="#000" stroke-width="1" />
<line x1="381.5" y1="54" x2="381.5" y2="59" stroke="#ff0000" stroke-width="1" />
<line x1="379.5" y1="56.5" x2="381.5" y2="56.5" stroke="#ff0000" stroke-width="1" />
<line x1="381.5" y1="56.5" x2="383.5" y2="56.5" stroke="#ff0000" stroke-width="1" />
<line x1="383.5" y1="54" x2="383.5" y2="58" stroke="#ff0000" stroke-width="1" />
<line x1="381.5" y1="56.5" x2="383.5" y2="56.5" stroke="#ff0000" stroke-width="1" />
<line x1="383.5" y1="55.5" x2="385.5" y2="55.5" stroke="#ff0000" stroke-width="1" />
<line x1="384.5" y1="51" x2="384.5" y2="57" stroke="#000" stroke-width="1" />
<line x1="382.5" y1="54.5" x2="384.5" y2="54.5" stroke="#000" stroke-width="1" />
<line x1="384.5" y1="54.5" x2="386.5" y2="54.5" stroke="#000" stroke-width="1" />
<line x1="386.5" y1="52" x2="386.5" y2="57" stroke="#000" stroke-width="1" />
<line x1="384.5" y1="54.5" x2="386.5" y2="54.5" stroke="#000" stroke-width="1" />
<line x1="386.5" y1="54.5" x2="388.5" y2="54.5" stroke="#000" stroke-width="1" />
<line x1="387.5" y1="54" x2="387.5" y2="57" stroke="#000" stroke-width="1" />
<line x1="385.5" y1="56.5" x2="387.5" y2="56.5" stroke="#000" stroke-width="1" />
<line x1="387.5" y1="55.5" x2="389.5" y2="55.5" stroke="#000" stroke-width="1" />
<line x1="389.5" y1="55" x2="389.5" y2="56" stroke="#000" stroke-width="1" />
<line x1="387.5" y1="55.5" x2="389.5" y2="55.5" stroke="#000" stroke-width="1" />
<line x1="389.5" y1="55.5" x2="391.5" y2="55.5" stroke="#000" stroke-width="1" />
<line x1="392.5" y1="55" x2="392.5" y2="56" stroke="#000" stroke-width="1" />
<line x1="390.5" y1="55.5" x2="392.5" y2="55.5" stroke="#000" stroke-width="1" />
<line x1="392.5" y1="55.5" x2="394.5" y2="55.5" stroke="#000" stroke-width="1" />
<line x1="394.5" y1="54" x2="394.5" y2="56" stroke="#000" stroke-width="1" />
<line x1="392.5" y1="54.5" x2="394.5" y2="54.5" stroke="#000" stroke-width="1" />
<line x1="394.5" y1="55.5" x2="396.5" y2="55.5" stroke="#000" stroke-width="1" />
<line x1="396.5" y1="54" x2="396.5" y2="56" stroke="#000" stroke-width="1" />
<line x1="394.5" y1="56.5" x2="396.5" y2="56.5" stroke="#000" stroke-width="1" />
<line x1="396.5" y1="54.5" x2="398.5" y2="54.5" stroke="#000" stroke-width="1" />
<line x1="398.5" y1="54" x2="398.5" y2="62" stroke="#000" stroke-width="1" />
<line x1="396.5" y1="60.5" x2="398.5" y2="60.5" stroke="#000" stroke-width="1" />
<line x1="398.5" y1="58.5" x2="400.5" y2="58.5" stroke="#000" stroke-width="1" />
<line x1="400.5" y1="48" x2="400.5" y2="62" stroke="#ff0000" stroke-width="1" />
<line x1="398.5" y1="58.5" x2="400.5" y2="58.5" stroke="#ff0000" stroke-width="1" />
<line x1="400.5" y1="57.5" x2="402.5" y2="57.5" stroke="#ff0000" stroke-width="1" />
<line x1="402.5" y1="52" x2="402.5" y2="56" stroke="#000" stroke-width="1" />
<line x1="400.5" y1="54.5" x2="402.5" y2="54.5" stroke="#000" stroke-width="1" />
<line x1="402.5" y1="52.5" x2="404.5" y2="52.5" stroke="#000" stroke-width="1" />
<line x1="404.5" y1="51" x2="404.5" y2="57" stroke="#000" stroke-width="1" />
<line x1="402.5" y1="54.5" x2="404.5" y2="54.5" stroke="#000" stroke-width="1" />
<line x1="404.5" y1="53.5" x2="406.5" y2="53.5" stroke="#000" stroke-width="1" />
<line x1="406.5" y1="51" x2="406.5" y2="57" stroke="#000" stroke-width="1" />
<line x1="404.5" y1="54.5" x2="406.5" y2="54.5" stroke="#000" stroke-width="1" />
<line x1="406.5" y1="55.5" x2="408.5" y2="55.5" stroke="#000" stroke-width="1" />
<line x1="408.5" y1="54" x2="408.5" y2="60" stroke="#000" stroke-width="1" />
<line x1="406.5" y1="58.5" x2="408.5" y2="58.5" stroke="#000" stroke-width="1" />
<line x1="408.5" y1="56.5" x2="410.5" y2="56.5" stroke="#000" stroke-width="1" />
<line x1="410.5" y1="57" x2="410.5" y2="60" stroke="#000" stroke-width="1" />
<line x1="408.5" y1="59.5" x2="410.5" y2="59.5" stroke="#000" stroke-width="1" />
<line x1="410.5" y1="58.5" x2="412.5" y2="58.5" stroke="#000" stroke-width="1" />
<line x1="412.5" y1="60" x2="412.5" y2="63" stroke="#000" stroke-width="1" />
<line x1="410.5" y1="63.5" x2="412.5" y2="63.5" stroke="#000" stroke-width="1" />
<line x1="412.5" y1="62.5" x2="414.5" y2="62.5" stroke="#000" stroke-width="1" />
<line x1="414.5" y1="60" x2="414.5" y2="63" stroke="#000" stroke-width="1" />
<line x1="412.5" y1="61.5" x2="414.5" y2="61.5" stroke="#000" stroke-width="1" />
<line x1="414.5" y1="61.5" x2="416.5" y2="61.5" stroke="#000" stroke-width="1" />
<line x1="416.5" y1="62" x2="416.5" y2="73" stroke="#000" stroke-width="1" />
<line x1="414.5" y1="65.5" x2="416.5" y2="65.5" stroke="#000" stroke-width="1" />
<line x1="416.5" y1="70.5" x2="418.5" y2="70.5" stroke="#000" stroke-width="1" />
<line x1="417.5" y1="73" x2="417.5" y2="97" stroke="#ff0000" stroke-width="1" />
<line x1="415.5" y1="82.5" x2="417.5" y2="82.5" stroke="#ff0000" stroke-width="1" />
<line x1="417.5" y1="91.5" x2="419.5" y2="91.5" stroke="#ff0000" stroke-width="1" />
<line x1="419.5" y1="75" x2="419.5" y2="95" stroke="#ff0000" stroke-width="1" />
<line x1="417.5" y1="82.5" x2="419.5" y2="82.5" stroke="#ff0000" stroke-width="1" />
<line x1="419.5" y1="82.5" x2="421.5" y2="82.5" stroke="#ff0000" stroke-width="1" />
<line x1="420.5" y1="83" x2="420.5" y2="98" stroke="#000" stroke-width="1" />
<line x1="418.5" y1="91.5" x2="420.5" y2="91.5" stroke="#000" stroke-width="1" />
<line x1="420.5" y1="88.5" x2="422.5" y2="88.5" stroke="#000" stroke-width="1" />
<line x1="422.5" y1="83" x2="422.5" y2="85" stroke="#000" stroke-width="1" />
<line x1="420.5" y1="84.5" x2="422.5" y2="84.5" stroke="#000" stroke-width="1" />
<line x1="422.5" y1="85.5" x2="424.5" y2="85.5" stroke="#000" stroke-width="1" />
<line x1="424.5" y1="56" x2="424.5" y2="84" stroke="#000" stroke-width="1" />
<line x1="422.5" y1="76.5" x2="424.5" y2="76.5" stroke="#000" stroke-width="1" />
<line x1="424.5" y1="75.5" x2="426.5" y2="75.5" stroke="#000" stroke-width="1" />
<line x1="426.5" y1="64" x2="426.5" y2="68" stroke="#000" stroke-width="1" />
<line x1="424.5" y1="67.5" x2="426.5" y2="67.5" stroke="#000" stroke-width="1" />
<line x1="426.5" y1="66.5" x2="428.5" y2="66.5" stroke="#000" stroke-width="1" />
<line x1="429.5" y1="64" x2="429.5" y2="70" stroke="#000" stroke-width="1" />
<line x1="427.5" y1="68.5" x2="429.5" y2="68.5" stroke="#000" stroke-width="1" />
<line x1="429.5" y1="67.5" x2="431.5" y2="67.5" stroke="#000" stroke-width="1" />
<line x1="432.5" y1="64" x2="432.5" y2="68" stroke="#000" stroke-width="1" />
<line x1="430.5" y1="66.5" x2="432.5" y2="66.5" stroke="#000" stroke-width="1" />
<line x1="432.5" y1="65.5" x2="434.5" y2="65.5" stroke="#000" stroke-width="1" />
<line x1="433.5" y1="60" x2="433.5" y2="66" stroke="#000" stroke-width="1" />
<line x1="431.5" y1="65.5" x2="433.5" y2="65.5" stroke="#000" stroke-width="1" />
<line x1="433.5" y1="62.5" x2="435.5" y2="62.5" stroke="#000" stroke-width="1" />
<line x1="435.5" y1="56" x2="435.5" y2="64" stroke="#000" stroke-width="1" />
<line x1="433.5" y1="60.5" x2="435.5" y2="60.5" stroke="#000" stroke-width="1" />
<line x1="435.5" y1="59.5" x2="437.5" y2="59.5" stroke="#000" stroke-width="1" />
<line x1="437.5" y1="62" x2="437.5" y2="85" stroke="#000" stroke-width="1" />
<line x1="435.5" y1="71.5" x2="437.5" y2="71.5" stroke="#000" stroke-width="1" />
<line x1="437.5" y1="77.5" x2="439.5" y2="77.5" stroke="#000" stroke-width="1" />
<line x1="438.5" y1="87" x2="438.5" y2="96" stroke="#000" stroke-width="1" />
<line x1="436.5" y1="92.5" x2="438.5" y2="92.5" stroke="#000" stroke-width="1" />
<line x1="438.5" y1="90.5" x2="440.5" y2="90.5" stroke="#000" stroke-width="1" />
<line x1="440.5" y1="85" x2="440.5" y2="95" stroke="#000" stroke-width="1" />
<line x1="438.5" y1="88.5" x2="440.5" y2="88.5" stroke="#000" stroke-width="1" />
<line x1="440.5" y1="88.5" x2="442.5" y2="88.5" stroke="#000" stroke-width="1" />
<line x1="441.5" y1="83" x2="441.5" y2="97" stroke="#ff0000" stroke-width="1" />
<line x1="439.5" y1="88.5" x2="441.5" y2="88.5" stroke="#ff0000" stroke-width="1" />
<line x1="441.5" y1="93.5" x2="443.5" y2="93.5" stroke="#ff0000" stroke-width="1" />
<line x1="443.5" y1="82" x2="443.5" y2="95" stroke="#000" stroke-width="1" />
<line x1="441.5" y1="88.5" x2="443.5" y2="88.5" stroke="#000" stroke-width="1" />
<line x1="443.5" y1="86.5" x2="445.5" y2="86.5" stroke="#000" stroke-width="1" />
<line x1="445.5" y1="81" x2="445.5" y2="97" stroke="#000" stroke-width="1" />
<line x1="443.5" y1="93.5" x2="445.5" y2="93.5" stroke="#000" stroke-width="1" />
<line x1="445.5" y1="93.5" x2="447.5" y2="93.5" stroke="#000" stroke-width="1" />
<line x1="447.5" y1="67" x2="447.5" y2="81" stroke="#000" stroke-width="1" />
<line x1="445.5" y1="73.5" x2="447.5" y2="73.5" stroke="#000" stroke-width="1" />
<line x1="447.5" y1="71.5" x2="449.5" y2="71.5" stroke="#000" stroke-width="1" />
<line x1="448.5" y1="69" x2="448.5" y2="75" stroke="#000" stroke-width="1" />
<line x1="446.5" y1="71.5" x2="448.5" y2="71.5" stroke="#000" stroke-width="1" />
<line x1="448.5" y1="70.5" x2="450.5" y2="70.5" stroke="#000" stroke-width="1" />
<line x1="451.5" y1="67" x2="451.5" y2="79" stroke="#000" stroke-width="1" />
<line x1="449.5" y1="72.5" x2="451.5" y2="72.5" stroke="#000" stroke-width="1" />
<line x1="451.5" y1="70.5" x2="453.5" y2="70.5" stroke="#000" stroke-width="1" />
<line x1="453.5" y1="65" x2="453.5" y2="72" stroke="#000" stroke-width="1" />
<line x1="451.5" y1="69.5" x2="453.5" y2="69.5" stroke="#000" stroke-width="1" />
<line x1="453.5" y1="70.5" x2="455.5" y2="70.5" stroke="#000" stroke-width="1" />
<line x1="455.5" y1="67" x2="455.5" y2="72" stroke="#000" stroke-width="1" />
<line x1="453.5" y1="69.5" x2="455.5" y2="69.5" stroke="#000" stroke-width="1" />
<line x1="455.5" y1="69.5" x2="457.5" y2="69.5" stroke="#000" stroke-width="1" />
<line x1="455.5" y1="61" x2="455.5" y2="71" stroke="#000" stroke-width="1" />
<line x1="453.5" y1="66.5" x2="455.5" y2="66.5" stroke="#000" stroke-width="1" />
<line x1="455.5" y1="65.5" x2="457.5" y2="65.5" stroke="#000" stroke-width="1" />
<line x1="457.5" y1="66" x2="457.5" y2="72" stroke="#000" stroke-width="1" />
<line x1="455.5" y1="71.5" x2="457.5" y2="71.5" stroke="#000" stroke-width="1" />
<line x1="457.5" y1="68.5" x2="459.5" y2="68.5" stroke="#000" stroke-width="1" />
<line x1="460.5" y1="67" x2="460.5" y2="71" stroke="#000" stroke-width="1" />
<line x1="458.5" y1="70.5" x2="460.5" y2="70.5" stroke="#000" stroke-width="1" />
<line x1="460.5" y1="69.5" x2="462.5" y2="69.5" stroke="#000" stroke-width="1" />
<line x1="461.5" y1="67" x2="461.5" y2="72" stroke="#000" stroke-width="1" />
<line x1="459.5" y1="69.5" x2="461.5" y2="69.5" stroke="#000" stroke-width="1" />
<line x1="461.5" y1="69.5" x2="463.5" y2="69.5" stroke="#000" stroke-width="1" />
<line x1="463.5" y1="65" x2="463.5" y2="69" stroke="#000" stroke-width="1" />
<line x1="461.5" y1="66.5" x2="463.5" y2="66.5" stroke="#000" stroke-width="1" />
<line x1="463.5" y1="67.5" x2="465.5" y2="67.5" stroke="#000" stroke-width="1" />
<line x1="466.5" y1="63" x2="466.5" y2="69" stroke="#000" stroke-width="1" />
<line x1="464.5" y1="67.5" x2="466.5" y2="67.5" stroke="#000" stroke-width="1" />
<line x1="466.5" y1="67.5" x2="468.5" y2="67.5" stroke="#000" stroke-width="1" />
<line x1="468.5" y1="67" x2="468.5" y2="74" stroke="#000" stroke-width="1" />
<line x1="466.5" y1="72.5" x2="468.5" y2="72.5" stroke="#000" stroke-width="1" />
<line x1="468.5" y1="68.5" x2="470.5" y2="68.5" stroke="#000" stroke-width="1" />
<line x1="471.5" y1="65" x2="471.5" y2="71" stroke="#000" stroke-width="1" />
<line x1="469.5" y1="66.5" x2="471.5" y2="66.5" stroke="#000" stroke-width="1" />
<line x1="471.5" y1="69.5" x2="473.5" y2="69.5" stroke="#000" stroke-width="1" />
<line x1="473.5" y1="68" x2="473.5" y2="71" stroke="#000" stroke-width="1" />
<line x1="471.5" y1="70.5" x2="473.5" y2="70.5" stroke="#000" stroke-width="1" />
<line x1="473.5" y1="69.5" x2="475.5" y2="69.5" stroke="#000" stroke-width="1" />
<line x1="475.5" y1="67" x2="475.5" y2="70" stroke="#000" stroke-width="1" />
<line x1="473.5" y1="69.5" x2="475.5" y2="69.5" stroke="#000" stroke-width="1" />
<line x1="475.5" y1="69.5" x2="477.5" y2="69.5" stroke="#000" stroke-width="1" />
<line x1="477.5" y1="71" x2="477.5" y2="73" stroke="#000" stroke-width="1" />
<line x1="475.5" y1="71.5" x2="477.5" y2="71.5" stroke="#000" stroke-width="1" />
<line x1="477.5" y1="71.5" x2="479.5" y2="71.5" stroke="#000" stroke-width="1" />
<line x1="478.5" y1="70" x2="478.5" y2="72" stroke="#000" stroke-width="1" />
<line x1="476.5" y1="72.5" x2="478.5" y2="72.5" stroke="#000" stroke-width="1" />
<line x1="478.5" y1="71.5" x2="480.5" y2="71.5" stroke="#000" stroke-width="1" />
<line x1="479.5" y1="67" x2="479.5" y2="81" stroke="#000" stroke-width="1" />
<line x1="477.5" y1="76.5" x2="479.5" y2="76.5" stroke="#000" stroke-width="1" />
<line x1="479.5" y1="77.5" x2="481.5" y2="77.5" stroke="#000" stroke-width="1" />
<line x1="481.5" y1="80" x2="481.5" y2="84" stroke="#000" stroke-width="1" />
<line x1="479.5" y1="82.5" x2="481.5" y2="82.5" stroke="#000" stroke-width="1" />
<line x1="481.5" y1="82.5" x2="483.5" y2="82.5" stroke="#000" stroke-width="1" />
<line x1="483.5" y1="81" x2="483.5" y2="102" stroke="#000" stroke-width="1" />
<line x1="481.5" y1="86.5" x2="483.5" y2="86.5" stroke="#000" stroke-width="1" />
<line x1="483.5" y1="95.5" x2="485.5" y2="95.5" stroke="#000" stroke-width="1" />
<line x1="487.5" y1="99" x2="487.5" y2="119" stroke="#ff0000" stroke-width="1" />
<line x1="485.5" y1="106.5" x2="487.5" y2="106.5" stroke="#ff0000" stroke-width="1" />
<line x1="487.5" y1="114.5" x2="489.5" y2="114.5" stroke="#ff0000" stroke-width="1" />
<line x1="488.5" y1="114" x2="488.5" y2="118" stroke="#000" stroke-width="1" />
<line x1="486.5" y1="116.5" x2="488.5" y2="116.5" stroke="#000" stroke-width="1" />
<line x1="488.5" y1="116.5" x2="490.5" y2="116.5" stroke="#000" stroke-width="1" />
<line x1="490.5" y1="101" x2="490.5" y2="111" stroke="#000" stroke-width="1" />
<line x1="488.5" y1="104.5" x2="490.5" y2="104.5" stroke="#000" stroke-width="1" />
<line x1="490.5" y1="104.5" x2="492.5" y2="104.5" stroke="#000" stroke-width="1" />
<line x1="492.5" y1="97" x2="492.5" y2="101" stroke="#000" stroke-width="1" />
<line x1="490.5" y1="99.5" x2="492.5" y2="99.5" stroke="#000" stroke-width="1" />
<line x1="492.5" y1="100.5" x2="494.5" y2="100.5" stroke="#000" stroke-width="1" />
<line x1="493.5" y1="94" x2="493.5" y2="103" stroke="#000" stroke-width="1" />
<line x1="491.5" y1="96.5" x2="493.5" y2="96.5" stroke="#000" stroke-width="1" />
<line x1="493.5" y1="96.5" x2="495.5" y2="96.5" stroke="#000" stroke-width="1" />
<line x1="495.5" y1="83" x2="495.5" y2="103" stroke="#000" stroke-width="1" />
<line x1="493.5" y1="94.5" x2="495.5" y2="94.5" stroke="#000" stroke-width="1" />
<line x1="495.5" y1="94.5" x2="497.5" y2="94.5" stroke="#000" stroke-width="1" />
<line x1="496.5" y1="94" x2="496.5" y2="103" stroke="#000" stroke-width="1" />
<line x1="494.5" y1="98.5" x2="496.5" y2="98.5" stroke="#000" stroke-width="1" />
<line x1="496.5" y1="97.5" x2="498.5" y2="97.5" stroke="#000" stroke-width="1" />
<line x1="499.5" y1="94" x2="499.5" y2="103" stroke="#000" stroke-width="1" />
<line x1="497.5" y1="99.5" x2="499.5" y2="99.5" stroke="#000" stroke-width="1" />
<line x1="499.5" y1="96.5" x2="501.5" y2="96.5" stroke="#000" stroke-width="1" />
<line x1="501.5" y1="86" x2="501.5" y2="96" stroke="#000" stroke-width="1" />
<line x1="499.5" y1="90.5" x2="501.5" y2="90.5" stroke="#000" stroke-width="1" />
<line x1="501.5" y1="91.5" x2="503.5" y2="91.5" stroke="#000" stroke-width="1" />
<line x1="503.5" y1="99" x2="503.5" y2="109" stroke="#000" stroke-width="1" />
<line x1="501.5" y1="107.5" x2="503.5" y2="107.5" stroke="#000" stroke-width="1" />
<line x1="503.5" y1="105.5" x2="505.5" y2="105.5" stroke="#000" stroke-width="1" />
<line x1="506.5" y1="112" x2="506.5" y2="118" stroke="#000" stroke-width="1" />
<line x1="504.5" y1="114.5" x2="506.5" y2="114.5" stroke="#000" stroke-width="1" />
<line x1="506.5" y1="114.5" x2="508.5" y2="114.5" stroke="#000" stroke-width="1" />
<line x1="508.5" y1="112" x2="508.5" y2="117" stroke="#000" stroke-width="1" />
<line x1="506.5" y1="114.5" x2="508.5" y2="114.5" stroke="#000" stroke-width="1" />
<line x1="508.5" y1="113.5" x2="510.5" y2="113.5" stroke="#000" stroke-width="1" />
<line x1="510.5" y1="115" x2="510.5" y2="118" stroke="#000" stroke-width="1" />
<line x1="508.5" y1="116.5" x2="510.5" y2="116.5" stroke="#000" stroke-width="1" />
<line x1="510.5" y1="116.5" x2="512.5" y2="116.5" stroke="#000" stroke-width="1" />
<line x1="513.5" y1="115" x2="513.5" y2="118" stroke="#000" stroke-width="1" />
<line x1="511.5" y1="116.5" x2="513.5" y2="116.5" stroke="#000" stroke-width="1" />
<line x1="513.5" y1="116.5" x2="515.5" y2="116.5" stroke="#000" stroke-width="1" />
<line x1="514.5" y1="118" x2="514.5" y2="126" stroke="#000" stroke-width="1" />
<line x1="512.5" y1="121.5" x2="514.5" y2="121.5" stroke="#000" stroke-width="1" />
<line x1="514.5" y1="122.5" x2="516.5" y2="122.5" stroke="#000" stroke-width="1" />
<line x1="517.5" y1="111" x2="517.5" y2="115" stroke="#000" stroke-width="1" />
<line x1="515.5" y1="114.5" x2="517.5" y2="114.5" stroke="#000" stroke-width="1" />
<line x1="517.5" y1="113.5" x2="519.5" y2="113.5" stroke="#000" stroke-width="1" />
<line x1="520.5" y1="102" x2="520.5" y2="110" stroke="#000" stroke-width="1" />
<line x1="518.5" y1="106.5" x2="520.5" y2="106.5" stroke="#000" stroke-width="1" />
<line x1="520.5" y1="105.5" x2="522.5" y2="105.5" stroke="#000" stroke-width="1" />
<line x1="521.5" y1="103" x2="521.5" y2="112" stroke="#000" stroke-width="1" />
<line x1="519.5" y1="110.5" x2="521.5" y2="110.5" stroke="#000" stroke-width="1" />
<line x1="521.5" y1="106.5" x2="523.5" y2="106.5" stroke="#000" stroke-width="1" />
<line x1="523.5" y1="106" x2="523.5" y2="114" stroke="#000" stroke-width="1" />
<line x1="521.5" y1="109.5" x2="523.5" y2="109.5" stroke="#000" stroke-width="1" />
<line x1="523.5" y1="111.5" x2="525.5" y2="111.5" stroke="#000" stroke-width="1" />
<line x1="524.5" y1="107" x2="524.5" y2="125" stroke="#000" stroke-width="1" />
<line x1="522.5" y1="114.5" x2="524.5" y2="114.5" stroke="#000" stroke-width="1" />
<line x1="524.5" y1="121.5" x2="526.5" y2="121.5" stroke="#000" stroke-width="1" />
<line x1="527.5" y1="118" x2="527.5" y2="126" stroke="#ff0000" stroke-width="1" />
<line x1="525.5" y1="122.5" x2="527.5" y2="122.5" stroke="#ff0000" stroke-width="1" />
<line x1="527.5" y1="120.5" x2="529.5" y2="120.5" stroke="#ff0000" stroke-width="1" />
<line x1="528.5" y1="118" x2="528.5" y2="121" stroke="#000" stroke-width="1" />
<line x1="526.5" y1="120.5" x2="528.5" y2="120.5" stroke="#000" stroke-width="1" />
<line x1="528.5" y1="121.5" x2="530.5" y2="121.5" stroke="#000" stroke-width="1" />
<line x1="531.5" y1="118" x2="531.5" y2="121" stroke="#000" stroke-width="1" />
<line x1="529.5" y1="119.5" x2="531.5" y2="119.5" stroke="#000" stroke-width="1" />
<line x1="531.5" y1="121.5" x2="533.5" y2="121.5" stroke="#000" stroke-width="1" />
<line x1="533.5" y1="118" x2="533.5" y2="122" stroke="#000" stroke-width="1" />
<line x1="531.5" y1="119.5" x2="533.5" y2="119.5" stroke="#000" stroke-width="1" />
<line x1="533.5" y1="120.5" x2="535.5" y2="120.5" stroke="#000" stroke-width="1" />
<line x1="537.5" y1="90" x2="537.5" y2="115" stroke="#000" stroke-width="1" />
<line x1="535.5" y1="109.5" x2="537.5" y2="109.5" stroke="#000" stroke-width="1" />
<line x1="537.5" y1="108.5" x2="539.5" y2="108.5" stroke="#000" stroke-width="1" />
<line x1="539.5" y1="103" x2="539.5" y2="119" stroke="#000" stroke-width="1" />
<line x1="537.5" y1="114.5" x2="539.5" y2="114.5" stroke="#000" stroke-width="1" />
<line x1="539.5" y1="116.5" x2="541.5" y2="116.5" stroke="#000" stroke-width="1" />
<line x1="543.5" y1="120" x2="543.5" y2="121" stroke="#000" stroke-width="1" />
<line x1="541.5" y1="120.5" x2="543.5" y2="120.5" stroke="#000" stroke-width="1" />
<line x1="543.5" y1="121.5" x2="545.5" y2="121.5" stroke="#000" stroke-width="1" />
<line x1="545.5" y1="120" x2="545.5" y2="121" stroke="#000" stroke-width="1" />
<line x1="543.5" y1="120.5" x2="545.5" y2="120.5" stroke="#000" stroke-width="1" />
<line x1="545.5" y1="120.5" x2="547.5" y2="120.5" stroke="#000" stroke-width="1" />
<line x1="547.5" y1="119" x2="547.5" y2="121" stroke="#000" stroke-width="1" />
<line x1="545.5" y1="120.5" x2="547.5" y2="120.5" stroke="#000" stroke-width="1" />
<line x1="547.5" y1="120.5" x2="549.5" y2="120.5" stroke="#000" stroke-width="1" />
<line x1="549.5" y1="115" x2="549.5" y2="127" stroke="#000" stroke-width="1" />
<line x1="547.5" y1="119.5" x2="549.5" y2="119.5" stroke="#000" stroke-width="1" />
<line x1="549.5" y1="120.5" x2="551.5" y2="120.5" stroke="#000" stroke-width="1" />
<line x1="550.5" y1="125" x2="550.5" y2="130" stroke="#000" stroke-width="1" />
<line x1="548.5" y1="129.5" x2="550.5" y2="129.5" stroke="#000" stroke-width="1" />
<line x1="550.5" y1="126.5" x2="552.5" y2="126.5" stroke="#000" stroke-width="1" />
<line x1="552.5" y1="123" x2="552.5" y2="128" stroke="#000" stroke-width="1" />
<line x1="550.5" y1="126.5" x2="552.5" y2="126.5" stroke="#000" stroke-width="1" />
<line x1="552.5" y1="125.5" x2="554.5" y2="125.5" stroke="#000" stroke-width="1" />
<line x1="554.5" y1="122" x2="554.5" y2="129" stroke="#000" stroke-width="1" />
<line x1="552.5" y1="125.5" x2="554.5" y2="125.5" stroke="#000" stroke-width="1" />
<line x1="554.5" y1="127.5" x2="556.5" y2="127.5" stroke="#000" stroke-width="1" />
<line x1="558.5" y1="131" x2="558.5" y2="133" stroke="#000" stroke-width="1" />
<line x1="556.5" y1="132.5" x2="558.5" y2="132.5" stroke="#000" stroke-width="1" />
<line x1="558.5" y1="132.5" x2="560.5" y2="132.5" stroke="#000" stroke-width="1" />
<line x1="562.5" y1="136" x2="562.5" y2="146" stroke="#000" stroke-width="1" />
<line x1="560.5" y1="143.5" x2="562.5" y2="143.5" stroke="#000" stroke-width="1" />
<line x1="562.5" y1="138.5" x2="564.5" y2="138.5" stroke="#000" stroke-width="1" />
<line x1="564.5" y1="145" x2="564.5" y2="157" stroke="#000" stroke-width="1" />
<line x1="562.5" y1="150.5" x2="564.5" y2="150.5" stroke="#000" stroke-width="1" />
<line x1="564.5" y1="153.5" x2="566.5" y2="153.5" stroke="#000" stroke-width="1" />
<line x1="566.5" y1="157" x2="566.5" y2="167" stroke="#ff0000" stroke-width="1" />
<line x1="564.5" y1="164.5" x2="566.5" y2="164.5" stroke="#ff0000" stroke-width="1" />
<line x1="566.5" y1="159.5" x2="568.5" y2="159.5" stroke="#ff0000" stroke-width="1" />
<line x1="568.5" y1="165" x2="568.5" y2="178" stroke="#000" stroke-width="1" />
<line x1="566.5" y1="168.5" x2="568.5" y2="168.5" stroke="#000" stroke-width="1" />
<line x1="568.5" y1="168.5" x2="570.5" y2="168.5" stroke="#000" stroke-width="1" />
<line x1="570.5" y1="187" x2="570.5" y2="212" stroke="#ff0000" stroke-width="1" />
<line x1="568.5" y1="206.5" x2="570.5" y2="206.5" stroke="#ff0000" stroke-width="1" />
<line x1="570.5" y1="196.5" x2="572.5" y2="196.5" stroke="#ff0000" stroke-width="1" />
<line x1="572.5" y1="200" x2="572.5" y2="218" stroke="#ff0000" stroke-width="1" />
<line x1="570.5" y1="212.5" x2="572.5" y2="212.5" stroke="#ff0000" stroke-width="1" />
<line x1="572.5" y1="213.5" x2="574.5" y2="213.5" stroke="#ff0000" stroke-width="1" />
<line x1="574.5" y1="200" x2="574.5" y2="212" stroke="#000" stroke-width="1" />
<line x1="572.5" y1="205.5" x2="574.5" y2="205.5" stroke="#000" stroke-width="1" />
<line x1="574.5" y1="204.5" x2="576.5" y2="204.5" stroke="#000" stroke-width="1" />
<line x1="575.5" y1="198" x2="575.5" y2="207" stroke="#000" stroke-width="1" />
<line x1="573.5" y1="205.5" x2="575.5" y2="205.5" stroke="#000" stroke-width="1" />
<line x1="575.5" y1="203.5" x2="577.5" y2="203.5" stroke="#000" stroke-width="1" />
<line x1="577.5" y1="192" x2="577.5" y2="201" stroke="#000" stroke-width="1" />
<line x1="575.5" y1="195.5" x2="577.5" y2="195.5" stroke="#000" stroke-width="1" />
<line x1="577.5" y1="198.5" x2="579.5" y2="198.5" stroke="#000" stroke-width="1" />
<line x1="578.5" y1="190" x2="578.5" y2="195" stroke="#000" stroke-width="1" />
<line x1="576.5" y1="192.5" x2="578.5" y2="192.5" stroke="#000" stroke-width="1" />
<line x1="578.5" y1="192.5" x2="580.5" y2="192.5" stroke="#000" stroke-width="1" />
<line x1="580.5" y1="190" x2="580.5" y2="200" stroke="#000" stroke-width="1" />
<line x1="578.5" y1="192.5" x2="580.5" y2="192.5" stroke="#000" stroke-width="1" />
<line x1="580.5" y1="197.5" x2="582.5" y2="197.5" stroke="#000" stroke-width="1" />
<line x1="583.5" y1="185" x2="583.5" y2="200" stroke="#ff0000" stroke-width="1" />
<line x1="581.5" y1="196.5" x2="583.5" y2="196.5" stroke="#ff0000" stroke-width="1" />
<line x1="583.5" y1="194.5" x2="585.5" y2="194.5" stroke="#ff0000" stroke-width="1" />
<line x1="585.5" y1="192" x2="585.5" y2="203" stroke="#000" stroke-width="1" />
<line x1="583.5" y1="200.5" x2="585.5" y2="200.5" stroke="#000" stroke-width="1" />
<line x1="585.5" y1="194.5" x2="587.5" y2="194.5" stroke="#000" stroke-width="1" />
<line x1="588.5" y1="191" x2="588.5" y2="197" stroke="#000" stroke-width="1" />
<line x1="586.5" y1="195.5" x2="588.5" y2="195.5" stroke="#000" stroke-width="1" />
<line x1="588.5" y1="195.5" x2="590.5" y2="195.5" stroke="#000" stroke-width="1" />
<line x1="590.5" y1="191" x2="590.5" y2="197" stroke="#000" stroke-width="1" />
<line x1="588.5" y1="194.5" x2="590.5" y2="194.5" stroke="#000" stroke-width="1" />
<line x1="590.5" y1="194.5" x2="592.5" y2="194.5" stroke="#000" stroke-width="1" />
<line x1="593.5" y1="193" x2="593.5" y2="197" stroke="#000" stroke-width="1" />
<line x1="591.5" y1="196.5" x2="593.5" y2="196.5" stroke="#000" stroke-width="1" />
<line x1="593.5" y1="196.5" x2="595.5" y2="196.5" stroke="#000" stroke-width="1" />
<line x1="595.5" y1="192" x2="595.5" y2="196" stroke="#000" stroke-width="1" />
<line x1="593.5" y1="194.5" x2="595.5" y2="194.5" stroke="#000" stroke-width="1" />
<line x1="595.5" y1="194.5" x2="597.5" y2="194.5" stroke="#000" stroke-width="1" />
<line x1="596.5" y1="190" x2="596.5" y2="203" stroke="#000" stroke-width="1" />
<line x1="594.5" y1="195.5" x2="596.5" y2="195.5" stroke="#000" stroke-width="1" />
<line x1="596.5" y1="195.5" x2="598.5" y2="195.5" stroke="#000" stroke-width="1" />
<line x1="599.5" y1="193" x2="599.5" y2="196" stroke="#000" stroke-width="1" />
<line x1="597.5" y1="194.5" x2="599.5" y2="194.5" stroke="#000" stroke-width="1" />
<line x1="599.5" y1="195.5" x2="601.5" y2="195.5" stroke="#000" stroke-width="1" />
<line x1="602.5" y1="192" x2="602.5" y2="196" stroke="#000" stroke-width="1" />
<line x1="600.5" y1="193.5" x2="602.5" y2="193.5" stroke="#000" stroke-width="1" />
<line x1="602.5" y1="194.5" x2="604.5" y2="194.5" stroke="#000" stroke-width="1" />
<line x1="604.5" y1="192" x2="604.5" y2="195" stroke="#000" stroke-width="1" />
<line x1="602.5" y1="194.5" x2="604.5" y2="194.5" stroke="#000" stroke-width="1" />
<line x1="604.5" y1="194.5" x2="606.5" y2="194.5" stroke="#000" stroke-width="1" />
<line x1="606.5" y1="192" x2="606.5" y2="197" stroke="#000" stroke-width="1" />
<line x1="604.5" y1="193.5" x2="606.5" y2="193.5" stroke="#000" stroke-width="1" />
<line x1="606.5" y1="194.5" x2="608.5" y2="194.5" stroke="#000" stroke-width="1" />
<line x1="607.5" y1="193" x2="607.5" y2="206" stroke="#000" stroke-width="1" />
<line x1="605.5" y1="201.5" x2="607.5" y2="201.5" stroke="#000" stroke-width="1" />
<line x1="607.5" y1="199.5" x2="609.5" y2="199.5" stroke="#000" stroke-width="1" />
<line x1="610.5" y1="192" x2="610.5" y2="196" stroke="#000" stroke-width="1" />
<line x1="608.5" y1="193.5" x2="610.5" y2="193.5" stroke="#000" stroke-width="1" />
<line x1="610.5" y1="194.5" x2="612.5" y2="194.5" stroke="#000" stroke-width="1" />
<line x1="613.5" y1="190" x2="613.5" y2="195" stroke="#000" stroke-width="1" />
<line x1="611.5" y1="193.5" x2="613.5" y2="193.5" stroke="#000" stroke-width="1" />
<line x1="613.5" y1="193.5" x2="615.5" y2="193.5" stroke="#000" stroke-width="1" />
<line x1="616.5" y1="189" x2="616.5" y2="196" stroke="#000" stroke-width="1" />
<line x1="614.5" y1="194.5" x2="616.5" y2="194.5" stroke="#000" stroke-width="1" />
<line x1="616.5" y1="194.5" x2="618.5" y2="194.5" stroke="#000" stroke-width="1" />
<line x1="619.5" y1="186" x2="619.5" y2="192" stroke="#000" stroke-width="1" />
<line x1="617.5" y1="190.5" x2="619.5" y2="190.5" stroke="#000" stroke-width="1" />
<line x1="619.5" y1="188.5" x2="621.5" y2="188.5" stroke="#000" stroke-width="1" />
<line x1="622.5" y1="163" x2="622.5" y2="190" stroke="#ff0000" stroke-width="1" />
<line x1="620.5" y1="182.5" x2="622.5" y2="182.5" stroke="#ff0000" stroke-width="1" />
<line x1="622.5" y1="173.5" x2="624.5" y2="173.5" stroke="#ff0000" stroke-width="1" />
<line x1="624.5" y1="183" x2="624.5" y2="188" stroke="#000" stroke-width="1" />
<line x1="622.5" y1="186.5" x2="624.5" y2="186.5" stroke="#000" stroke-width="1" />
<line x1="624.5" y1="185.5" x2="626.5" y2="185.5" stroke="#000" stroke-width="1" />
<line x1="626.5" y1="184" x2="626.5" y2="186" stroke="#000" stroke-width="1" />
<line x1="624.5" y1="185.5" x2="626.5" y2="185.5" stroke="#000" stroke-width="1" />
<line x1="626.5" y1="185.5" x2="628.5" y2="185.5" stroke="#000" stroke-width="1" />
<path d="M150.5,267.5 V256.5 M153.5,267.5 V256.5 M147.5,259.5 L152,254 L156.5,259.5" fill="none" stroke="#ff1010" stroke-width="1.3"/>
<path d="M235.0,211 h3 v5.279999999999998 h2.7 L236.5,220.6 L232.3,216.28 h2.7 z" fill="#ff1010"/>
<path d="M237.5,271.5 h3 v-6.434999999999994 h2.7 L239,259.8 L234.8,265.065 h2.7 z" fill="#ff1010"/>
<path d="M394.1,29.4 h3 v5.830000000000001 h2.7 L395.6,40 L391.40000000000003,35.23 h2.7 z" fill="#ff1010"/>
<path d="M413.0,36 h3 v4.95 h2.7 L414.5,45 L410.3,40.95 h2.7 z" fill="#ff1010"/>
<path d="M408.5,115 h3 v-5.775 h2.7 L410,104.5 L405.8,109.225 h2.7 z" fill="#ff1010"/>
<path d="M424.4,33 V42 M420.09999999999997,38.7 L424.4,42 L428.7,38.7" fill="none" stroke="#ff1010" stroke-width="1"/>
<path d="M537,69 V79 M532.7,75.7 L537,79 L541.3,75.7" fill="none" stroke="#ff1010" stroke-width="1"/>
<path d="M362.5,24 V38 M358.2,34.7 L362.5,38 L366.8,34.7" fill="none" stroke="#f020f0" stroke-width="1"/>
<path d="M384.5,22.5 V37.5 M380.2,34.2 L384.5,37.5 L388.8,34.2" fill="none" stroke="#f020f0" stroke-width="1"/>
<path d="M364,37 L369,33 M386,37 L390,33" stroke="#000" stroke-width="1" fill="none"/>
<path d="M229,313 V297 M224.5,306 L229,297 L233.5,306" fill="none" stroke="#000" stroke-width="1"/>
<path d="M541.5,132 V124.5 M539,127 L541.5,124 L544,127" fill="none" stroke="#000" stroke-width="1"/>
<line x1="39.5" y1="429" x2="39.5" y2="447" stroke="#a09a30" stroke-width="1" />
<rect x="348" y="18" width="44" height="31.5" rx="5" ry="5" fill="none" stroke="#f01cf0" stroke-width="3"/>
<rect x="418.5" y="24.5" width="31.5" height="29.5" rx="5" ry="5" fill="none" stroke="#f01cf0" stroke-width="3"/>
<rect x="525.5" y="54.5" width="45.5" height="33.5" rx="5" ry="5" fill="none" stroke="#f01cf0" stroke-width="3"/>
<text x="1.5" y="10.5" font-size="12" font-weight="bold" fill="#000" textLength="388.5" lengthAdjust="spacingAndGlyphs">(Red arrows)#1 Indicator=50-day IPA ma turns. Its gain= 246.4% Sell</text>
<text x="1.5" y="27" font-size="12" font-weight="bold" fill="#000" textLength="24.5" lengthAdjust="spacingAndGlyphs">ADK</text>
<text x="84" y="27" font-size="12" font-weight="bold" fill="#000" textLength="130" lengthAdjust="spacingAndGlyphs">ADCARE HEALTH SYS</text>
<text x="252.5" y="27" font-size="12" font-weight="bold" fill="#000" textLength="155.5" lengthAdjust="spacingAndGlyphs">(C) 2010 www.tigersoft.com</text>
<text x="426" y="27" font-size="12" font-weight="bold" fill="#000" textLength="37" lengthAdjust="spacingAndGlyphs">Close=</text>
<text x="472.5" y="27" font-size="12" font-weight="bold" fill="#000" textLength="24.5" lengthAdjust="spacingAndGlyphs">3.62</text>
<text x="507.4" y="27" font-size="12" font-weight="bold" fill="#000" textLength="48.6" lengthAdjust="spacingAndGlyphs">Change=</text>
<text x="561.6" y="27" font-size="12" font-weight="bold" fill="#000" textLength="18" lengthAdjust="spacingAndGlyphs">.03</text>
<text x="584" y="27" font-size="12" font-weight="bold" fill="#000" textLength="44.6" lengthAdjust="spacingAndGlyphs">Volume=</text>
<text x="637" y="27" font-size="12" font-weight="bold" fill="#000" textLength="24.5" lengthAdjust="spacingAndGlyphs">36.4</text>
<text x="43.7" y="41.5" font-size="12" font-weight="bold" fill="#000" textLength="10.5" lengthAdjust="spacingAndGlyphs">7/</text>
<text x="61" y="41.5" font-size="12" font-weight="bold" fill="#000" textLength="18.7" lengthAdjust="spacingAndGlyphs">20/</text>
<text x="84.2" y="41.5" font-size="12" font-weight="bold" fill="#000" textLength="11.3" lengthAdjust="spacingAndGlyphs">9-</text>
<text x="101.5" y="41.5" font-size="12" font-weight="bold" fill="#000" textLength="10.5" lengthAdjust="spacingAndGlyphs">8/</text>
<text x="118.7" y="41.5" font-size="12" font-weight="bold" fill="#000" textLength="11.3" lengthAdjust="spacingAndGlyphs">6/</text>
<text x="136" y="41.5" font-size="12" font-weight="bold" fill="#000" textLength="12.7" lengthAdjust="spacingAndGlyphs">10</text>
<text x="5.6" y="57.5" font-size="12" font-weight="bold" fill="#000" textLength="6.5" lengthAdjust="spacingAndGlyphs">6</text>
<text x="5.6" y="85.5" font-size="12" font-weight="bold" fill="#000" textLength="17.5" lengthAdjust="spacingAndGlyphs">5.5</text>
<text x="5.6" y="112.5" font-size="12" font-weight="bold" fill="#000" textLength="6.5" lengthAdjust="spacingAndGlyphs">5</text>
<text x="5.6" y="140.5" font-size="12" font-weight="bold" fill="#000" textLength="17.5" lengthAdjust="spacingAndGlyphs">4.5</text>
<text x="5.6" y="167.5" font-size="12" font-weight="bold" fill="#000" textLength="6.5" lengthAdjust="spacingAndGlyphs">4</text>
<text x="5.6" y="194.5" font-size="12" font-weight="bold" fill="#000" textLength="17.5" lengthAdjust="spacingAndGlyphs">3.5</text>
<text x="5.6" y="222.5" font-size="12" font-weight="bold" fill="#000" textLength="6.5" lengthAdjust="spacingAndGlyphs">3</text>
<text x="5.6" y="249.5" font-size="12" font-weight="bold" fill="#000" textLength="17.5" lengthAdjust="spacingAndGlyphs">2.5</text>
<text x="5.6" y="276.5" font-size="12" font-weight="bold" fill="#000" textLength="6.5" lengthAdjust="spacingAndGlyphs">2</text>
<text x="367.7" y="42.7" font-size="12" font-weight="bold" fill="#000" textLength="14.3" lengthAdjust="spacingAndGlyphs">S8</text>
<text x="429.6" y="48.5" font-size="12" font-weight="bold" fill="#000" textLength="14.8" lengthAdjust="spacingAndGlyphs">S9</text>
<text x="543" y="83.5" font-size="12" font-weight="bold" fill="#000" textLength="14.5" lengthAdjust="spacingAndGlyphs">S9</text>
<text x="216.5" y="325" font-size="12" font-weight="bold" fill="#000" textLength="22.5" lengthAdjust="spacingAndGlyphs">B29</text>
<text x="642.75" y="224.9" font-size="12" font-weight="bold" fill="#000" textLength="138" lengthAdjust="spacingAndGlyphs">SHORT THE PULLBACK</text>
<text x="642.75" y="287" font-size="12" font-weight="bold" fill="#000" textLength="142.3" lengthAdjust="spacingAndGlyphs">CLOSING POWER (blue):</text>
<text x="642.75" y="300.8" font-size="12" font-weight="bold" fill="#000" textLength="36.5" lengthAdjust="spacingAndGlyphs">Bullish</text>
<text x="642.75" y="323.1" font-size="12" font-weight="bold" fill="#000" textLength="87.2" lengthAdjust="spacingAndGlyphs">OBV (magenta):</text>
<text x="642.75" y="356" font-size="12" font-weight="bold" fill="#000" textLength="148.3" lengthAdjust="spacingAndGlyphs">REL.STR..VS DJI (brown):</text>
<text x="642.75" y="411.9" font-size="12" font-weight="bold" fill="#000" textLength="161.5" lengthAdjust="spacingAndGlyphs">Bullish: Accumulation Rising</text>
<text x="57.5" y="351.9" font-size="12" font-weight="bold" fill="#000" textLength="22" lengthAdjust="spacingAndGlyphs">+.50</text>
<text x="1.5" y="358.4" font-size="12" font-weight="bold" fill="#000" textLength="79" lengthAdjust="spacingAndGlyphs">Insider Buying</text>
<text x="1.5" y="377.1" font-size="12" font-weight="bold" fill="#000" textLength="37.8" lengthAdjust="spacingAndGlyphs">Accum</text>
<text x="1.5" y="389.6" font-size="12" font-weight="bold" fill="#000" textLength="30.7" lengthAdjust="spacingAndGlyphs">Index</text>
<text x="1.5" y="403.4" font-size="12" font-weight="bold" fill="#000" textLength="63.6" lengthAdjust="spacingAndGlyphs">AI= 87/200</text>
<text x="56.5" y="379.4" font-size="12" font-weight="bold" fill="#000" textLength="23" lengthAdjust="spacingAndGlyphs">+.25</text>
<text x="56.5" y="430.4" font-size="12" font-weight="bold" fill="#000" textLength="21" lengthAdjust="spacingAndGlyphs">-.25</text>
<text x="73.8" y="442.9" font-size="12" font-weight="bold" fill="#000" textLength="22" lengthAdjust="spacingAndGlyphs">Aug</text>
<text x="122" y="442.9" font-size="12" font-weight="bold" fill="#000" textLength="21.5" lengthAdjust="spacingAndGlyphs">Sep</text>
<text x="167" y="442.9" font-size="12" font-weight="bold" fill="#000" textLength="20.5" lengthAdjust="spacingAndGlyphs">Oct</text>
<text x="216" y="442.9" font-size="12" font-weight="bold" fill="#000" textLength="23" lengthAdjust="spacingAndGlyphs">Nov</text>
<text x="260" y="442.9" font-size="12" font-weight="bold" fill="#000" textLength="24" lengthAdjust="spacingAndGlyphs">Dec</text>
<text x="309" y="442.9" font-size="12" font-weight="bold" fill="#000" textLength="21" lengthAdjust="spacingAndGlyphs">Jan</text>
<text x="351" y="442.9" font-size="12" font-weight="bold" fill="#000" textLength="21.5" lengthAdjust="spacingAndGlyphs">Feb</text>
<text x="394" y="442.9" font-size="12" font-weight="bold" fill="#000" textLength="19.5" lengthAdjust="spacingAndGlyphs">Mar</text>
<text x="444" y="442.9" font-size="12" font-weight="bold" fill="#000" textLength="18.5" lengthAdjust="spacingAndGlyphs">Apr</text>
<text x="491" y="442.9" font-size="12" font-weight="bold" fill="#000" textLength="22" lengthAdjust="spacingAndGlyphs">May</text>
<text x="534.3" y="442.9" font-size="12" font-weight="bold" fill="#000" textLength="19.5" lengthAdjust="spacingAndGlyphs">Jun</text>
<text x="584" y="442.9" font-size="12" font-weight="bold" fill="#000" textLength="14.5" lengthAdjust="spacingAndGlyphs">Jul</text>
<text x="628.5" y="442.9" font-size="12" font-weight="bold" fill="#000" textLength="22.5" lengthAdjust="spacingAndGlyphs">Aug</text>
<text x="1.5" y="469.5" font-size="12" font-weight="bold" fill="#000" textLength="478" lengthAdjust="spacingAndGlyphs">(Blue arrows)#2 Indicator=50-day Tiger Traders' Tool ma turns. Its gain= 213.5% Sell</text>
<text x="1.5" y="483" font-size="12" font-weight="bold" fill="#000" textLength="458.3" lengthAdjust="spacingAndGlyphs">(Green arrows)#3 Indicator=50-day ma penetrations by .5%. Its gain= 134.6% Sell</text>
<text x="1.5" y="496.2" font-size="12" font-weight="bold" fill="#000" textLength="594.4" lengthAdjust="spacingAndGlyphs">(Magenta arrows)#4 Indicator=5-d St-Pct-D turns up below 20/turns down over 80.. Its gain= 132.7% Sell</text>
<rect x="418.5" y="24.5" width="31.5" height="29.5" rx="5" ry="5" fill="none" stroke="#f01cf0" stroke-width="3"/>
</svg>
</body></html>
